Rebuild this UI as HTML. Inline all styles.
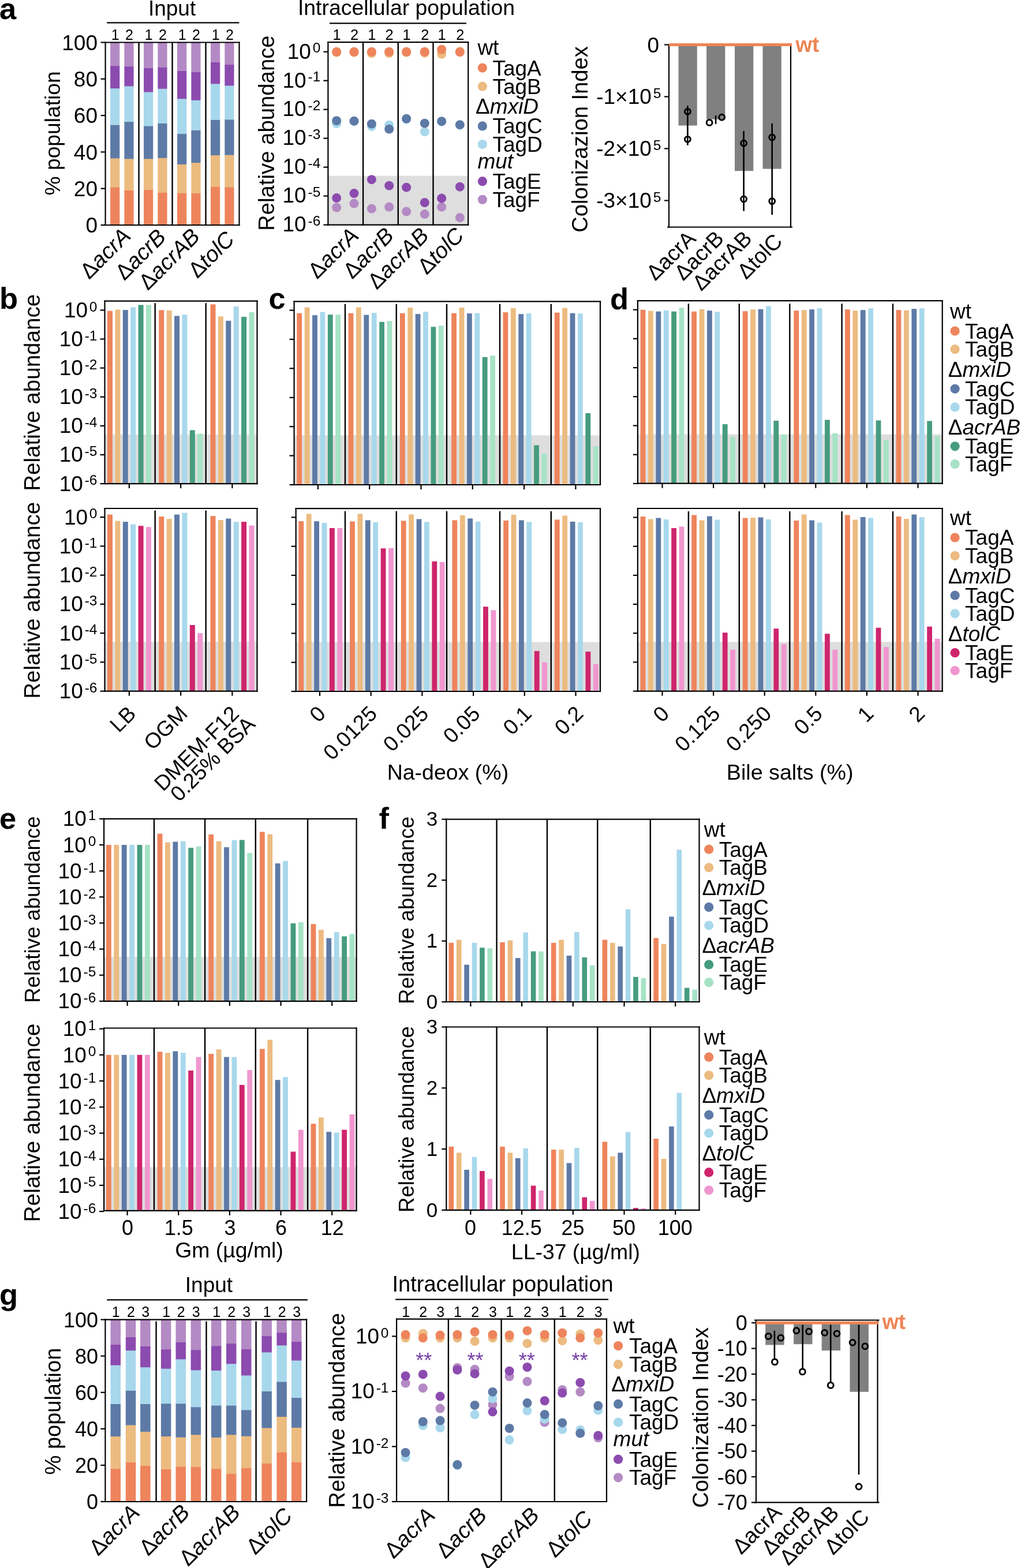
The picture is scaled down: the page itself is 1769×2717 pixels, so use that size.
<!DOCTYPE html>
<html><head><meta charset="utf-8"><title>Figure</title>
<style>html,body{margin:0;padding:0;background:#fff;}svg{display:block;}text{font-family:"Liberation Sans", Arial, Helvetica, sans-serif;}</style>
</head><body>
<svg xmlns="http://www.w3.org/2000/svg" width="1769" height="2717" viewBox="0 0 1769 2717">
<rect x="0" y="0" width="1769" height="2717" fill="#fff"/>
<text x="-1" y="32.5" font-size="52.5" text-anchor="start" font-weight="bold" fill="#000">a</text>
<text x="-1" y="535.3" font-size="52.5" text-anchor="start" font-weight="bold" fill="#000">b</text>
<text x="465.5" y="535.3" font-size="52.5" text-anchor="start" font-weight="bold" fill="#000">c</text>
<text x="1057" y="535.5" font-size="52.5" text-anchor="start" font-weight="bold" fill="#000">d</text>
<text x="-1" y="1435.5" font-size="52.5" text-anchor="start" font-weight="bold" fill="#000">e</text>
<text x="656.5" y="1435.8" font-size="52.5" text-anchor="start" font-weight="bold" fill="#000">f</text>
<text x="-1" y="2260.5" font-size="52.5" text-anchor="start" font-weight="bold" fill="#000">g</text>
<rect x="191.1" y="324.17" width="16.2" height="66.13" fill="#EE845C"/>
<rect x="191.1" y="274.16" width="16.2" height="50.31" fill="#ECBB80"/>
<rect x="191.1" y="216.24" width="16.2" height="58.22" fill="#5D7AA6"/>
<rect x="191.1" y="152.94" width="16.2" height="63.6" fill="#A8D8EC"/>
<rect x="191.1" y="114.01" width="16.2" height="39.23" fill="#8C4BAF"/>
<rect x="191.1" y="73.5" width="16.2" height="40.81" fill="#B48AC4"/>
<rect x="215.4" y="329.55" width="16.2" height="60.75" fill="#EE845C"/>
<rect x="215.4" y="275.11" width="16.2" height="54.74" fill="#ECBB80"/>
<rect x="215.4" y="210.86" width="16.2" height="64.55" fill="#5D7AA6"/>
<rect x="215.4" y="149.14" width="16.2" height="62.02" fill="#A8D8EC"/>
<rect x="215.4" y="114.96" width="16.2" height="34.48" fill="#8C4BAF"/>
<rect x="215.4" y="73.5" width="16.2" height="41.76" fill="#B48AC4"/>
<rect x="249.07" y="328.6" width="16.2" height="61.7" fill="#EE845C"/>
<rect x="249.07" y="275.11" width="16.2" height="53.79" fill="#ECBB80"/>
<rect x="249.07" y="218.14" width="16.2" height="57.27" fill="#5D7AA6"/>
<rect x="249.07" y="159.27" width="16.2" height="59.17" fill="#A8D8EC"/>
<rect x="249.07" y="117.81" width="16.2" height="41.76" fill="#8C4BAF"/>
<rect x="249.07" y="73.5" width="16.2" height="44.61" fill="#B48AC4"/>
<rect x="273.38" y="333.35" width="16.2" height="56.95" fill="#EE845C"/>
<rect x="273.38" y="273.53" width="16.2" height="60.12" fill="#ECBB80"/>
<rect x="273.38" y="213.39" width="16.2" height="60.44" fill="#5D7AA6"/>
<rect x="273.38" y="153.57" width="16.2" height="60.12" fill="#A8D8EC"/>
<rect x="273.38" y="116.23" width="16.2" height="37.65" fill="#8C4BAF"/>
<rect x="273.38" y="73.5" width="16.2" height="43.03" fill="#B48AC4"/>
<rect x="307.05" y="334.3" width="16.2" height="56" fill="#EE845C"/>
<rect x="307.05" y="284.61" width="16.2" height="49.99" fill="#ECBB80"/>
<rect x="307.05" y="231.75" width="16.2" height="53.16" fill="#5D7AA6"/>
<rect x="307.05" y="170.98" width="16.2" height="61.07" fill="#A8D8EC"/>
<rect x="307.05" y="122.56" width="16.2" height="48.72" fill="#8C4BAF"/>
<rect x="307.05" y="73.5" width="16.2" height="49.36" fill="#B48AC4"/>
<rect x="331.35" y="334.61" width="16.2" height="55.69" fill="#EE845C"/>
<rect x="331.35" y="281.76" width="16.2" height="53.16" fill="#ECBB80"/>
<rect x="331.35" y="225.42" width="16.2" height="56.64" fill="#5D7AA6"/>
<rect x="331.35" y="173.51" width="16.2" height="52.21" fill="#A8D8EC"/>
<rect x="331.35" y="124.46" width="16.2" height="49.36" fill="#8C4BAF"/>
<rect x="331.35" y="73.5" width="16.2" height="51.26" fill="#B48AC4"/>
<rect x="365.02" y="323.22" width="16.2" height="67.08" fill="#EE845C"/>
<rect x="365.02" y="268.78" width="16.2" height="54.74" fill="#ECBB80"/>
<rect x="365.02" y="207.38" width="16.2" height="61.7" fill="#5D7AA6"/>
<rect x="365.02" y="145.03" width="16.2" height="62.65" fill="#A8D8EC"/>
<rect x="365.02" y="107.68" width="16.2" height="37.65" fill="#8C4BAF"/>
<rect x="365.02" y="73.5" width="16.2" height="34.48" fill="#B48AC4"/>
<rect x="389.32" y="324.17" width="16.2" height="66.13" fill="#EE845C"/>
<rect x="389.32" y="268.46" width="16.2" height="56" fill="#ECBB80"/>
<rect x="389.32" y="207.06" width="16.2" height="61.7" fill="#5D7AA6"/>
<rect x="389.32" y="148.19" width="16.2" height="59.17" fill="#A8D8EC"/>
<rect x="389.32" y="111.48" width="16.2" height="37.01" fill="#8C4BAF"/>
<rect x="389.32" y="73.5" width="16.2" height="38.28" fill="#B48AC4"/>
<line x1="240.57" y1="73.5" x2="240.57" y2="390" stroke="#000" stroke-width="2.4" stroke-linecap="butt"/>
<line x1="298.55" y1="73.5" x2="298.55" y2="390" stroke="#000" stroke-width="2.4" stroke-linecap="butt"/>
<line x1="356.52" y1="73.5" x2="356.52" y2="390" stroke="#000" stroke-width="2.4" stroke-linecap="butt"/>
<line x1="182.6" y1="72.4" x2="182.6" y2="391.1" stroke="#000" stroke-width="2.2" stroke-linecap="butt"/>
<line x1="181.5" y1="390" x2="415.6" y2="390" stroke="#000" stroke-width="2.2" stroke-linecap="butt"/>
<line x1="181.5" y1="73.5" x2="415.6" y2="73.5" stroke="#000" stroke-width="2.2" stroke-linecap="butt"/>
<line x1="414.5" y1="72.4" x2="414.5" y2="391.1" stroke="#000" stroke-width="2.2" stroke-linecap="butt"/>
<line x1="174.6" y1="390" x2="182.6" y2="390" stroke="#000" stroke-width="2.2" stroke-linecap="butt"/>
<line x1="174.6" y1="326.7" x2="182.6" y2="326.7" stroke="#000" stroke-width="2.2" stroke-linecap="butt"/>
<line x1="174.6" y1="263.4" x2="182.6" y2="263.4" stroke="#000" stroke-width="2.2" stroke-linecap="butt"/>
<line x1="174.6" y1="200.1" x2="182.6" y2="200.1" stroke="#000" stroke-width="2.2" stroke-linecap="butt"/>
<line x1="174.6" y1="136.8" x2="182.6" y2="136.8" stroke="#000" stroke-width="2.2" stroke-linecap="butt"/>
<line x1="174.6" y1="73.5" x2="182.6" y2="73.5" stroke="#000" stroke-width="2.2" stroke-linecap="butt"/>
<text x="169" y="403.2" font-size="37" text-anchor="end" fill="#000">0</text>
<text x="169" y="339.9" font-size="37" text-anchor="end" fill="#000">20</text>
<text x="169" y="276.6" font-size="37" text-anchor="end" fill="#000">40</text>
<text x="169" y="213.3" font-size="37" text-anchor="end" fill="#000">60</text>
<text x="169" y="150" font-size="37" text-anchor="end" fill="#000">80</text>
<text x="169" y="86.7" font-size="37" text-anchor="end" fill="#000">100</text>
<text x="104.5" y="230.9" font-size="37.2" text-anchor="middle" fill="#000" transform="rotate(-90 104.5 230.9)">% population</text>
<text x="298.1" y="26.6" font-size="37" text-anchor="middle" fill="#000">Input</text>
<line x1="185.2" y1="39.3" x2="414.4" y2="39.3" stroke="#000" stroke-width="2.2" stroke-linecap="butt"/>
<text x="199.7" y="68.6" font-size="25" text-anchor="middle" fill="#000">1</text>
<text x="224" y="68.6" font-size="25" text-anchor="middle" fill="#000">2</text>
<text x="257.68" y="68.6" font-size="25" text-anchor="middle" fill="#000">1</text>
<text x="281.98" y="68.6" font-size="25" text-anchor="middle" fill="#000">2</text>
<text x="315.65" y="68.6" font-size="25" text-anchor="middle" fill="#000">1</text>
<text x="339.95" y="68.6" font-size="25" text-anchor="middle" fill="#000">2</text>
<text x="373.62" y="68.6" font-size="25" text-anchor="middle" fill="#000">1</text>
<text x="397.93" y="68.6" font-size="25" text-anchor="middle" fill="#000">2</text>
<text x="228.59" y="411" font-size="38.5" text-anchor="end" transform="rotate(-45 228.59 411)">Δ<tspan font-style="italic">acrA</tspan></text>
<text x="289.56" y="413" font-size="38.5" text-anchor="end" transform="rotate(-45 289.56 413)">Δ<tspan font-style="italic">acrB</tspan></text>
<text x="348.54" y="412" font-size="38.5" text-anchor="end" transform="rotate(-45 348.54 412)">Δ<tspan font-style="italic">acrAB</tspan></text>
<text x="408.51" y="417" font-size="38.5" text-anchor="end" transform="rotate(-45 408.51 417)">Δ<tspan font-style="italic">tolC</tspan></text>
<rect x="568.4" y="304.69" width="242.8" height="84.91" fill="#DDDEDD"/>
<line x1="629.1" y1="73.2" x2="629.1" y2="389.6" stroke="#000" stroke-width="2.4" stroke-linecap="butt"/>
<line x1="689.8" y1="73.2" x2="689.8" y2="389.6" stroke="#000" stroke-width="2.4" stroke-linecap="butt"/>
<line x1="750.5" y1="73.2" x2="750.5" y2="389.6" stroke="#000" stroke-width="2.4" stroke-linecap="butt"/>
<circle cx="583.2" cy="359.61" r="8" fill="#B48AC4"/>
<circle cx="613.5" cy="352.61" r="8" fill="#B48AC4"/>
<circle cx="643.9" cy="361.61" r="8" fill="#B48AC4"/>
<circle cx="674.2" cy="358.61" r="8" fill="#B48AC4"/>
<circle cx="704.2" cy="366.61" r="8" fill="#B48AC4"/>
<circle cx="735.8" cy="371.11" r="8" fill="#B48AC4"/>
<circle cx="765.2" cy="358.61" r="8" fill="#B48AC4"/>
<circle cx="796.8" cy="377.11" r="8" fill="#B48AC4"/>
<circle cx="583.2" cy="343.12" r="8" fill="#8C4BAF"/>
<circle cx="613.5" cy="335.12" r="8" fill="#8C4BAF"/>
<circle cx="643.9" cy="311.13" r="8" fill="#8C4BAF"/>
<circle cx="674.2" cy="321.63" r="8" fill="#8C4BAF"/>
<circle cx="704.2" cy="324.63" r="8" fill="#8C4BAF"/>
<circle cx="735.8" cy="351.12" r="8" fill="#8C4BAF"/>
<circle cx="765.2" cy="343.62" r="8" fill="#8C4BAF"/>
<circle cx="796.8" cy="323.63" r="8" fill="#8C4BAF"/>
<circle cx="583.2" cy="214.17" r="8" fill="#A8D8EC"/>
<circle cx="613.5" cy="210.17" r="8" fill="#A8D8EC"/>
<circle cx="643.9" cy="219.17" r="8" fill="#A8D8EC"/>
<circle cx="674.2" cy="216.67" r="8" fill="#A8D8EC"/>
<circle cx="704.2" cy="206.67" r="8" fill="#A8D8EC"/>
<circle cx="735.8" cy="228.16" r="8" fill="#A8D8EC"/>
<circle cx="765.2" cy="210.67" r="8" fill="#A8D8EC"/>
<circle cx="796.8" cy="216.67" r="8" fill="#A8D8EC"/>
<circle cx="583.2" cy="209.17" r="8" fill="#5D7AA6"/>
<circle cx="613.5" cy="209.67" r="8" fill="#5D7AA6"/>
<circle cx="643.9" cy="214.67" r="8" fill="#5D7AA6"/>
<circle cx="674.2" cy="223.67" r="8" fill="#5D7AA6"/>
<circle cx="704.2" cy="205.67" r="8" fill="#5D7AA6"/>
<circle cx="735.8" cy="213.67" r="8" fill="#5D7AA6"/>
<circle cx="765.2" cy="210.17" r="8" fill="#5D7AA6"/>
<circle cx="796.8" cy="216.17" r="8" fill="#5D7AA6"/>
<circle cx="583.2" cy="90.72" r="8" fill="#ECBB80"/>
<circle cx="613.5" cy="90.72" r="8" fill="#ECBB80"/>
<circle cx="643.9" cy="92.22" r="8" fill="#ECBB80"/>
<circle cx="674.2" cy="92.22" r="8" fill="#ECBB80"/>
<circle cx="704.2" cy="90.72" r="8" fill="#ECBB80"/>
<circle cx="735.8" cy="91.72" r="8" fill="#ECBB80"/>
<circle cx="765.2" cy="93.72" r="8" fill="#ECBB80"/>
<circle cx="796.8" cy="89.22" r="8" fill="#ECBB80"/>
<circle cx="583.2" cy="89.72" r="8" fill="#EE845C"/>
<circle cx="613.5" cy="89.72" r="8" fill="#EE845C"/>
<circle cx="643.9" cy="89.72" r="8" fill="#EE845C"/>
<circle cx="674.2" cy="89.72" r="8" fill="#EE845C"/>
<circle cx="704.2" cy="89.72" r="8" fill="#EE845C"/>
<circle cx="735.8" cy="89.72" r="8" fill="#EE845C"/>
<circle cx="765.2" cy="85.72" r="8" fill="#EE845C"/>
<circle cx="796.8" cy="90.22" r="8" fill="#EE845C"/>
<line x1="568.4" y1="72.1" x2="568.4" y2="390.7" stroke="#000" stroke-width="2.2" stroke-linecap="butt"/>
<line x1="567.3" y1="389.6" x2="812.3" y2="389.6" stroke="#000" stroke-width="2.2" stroke-linecap="butt"/>
<line x1="567.3" y1="73.2" x2="812.3" y2="73.2" stroke="#000" stroke-width="2.2" stroke-linecap="butt"/>
<line x1="811.2" y1="72.1" x2="811.2" y2="390.7" stroke="#000" stroke-width="2.2" stroke-linecap="butt"/>
<line x1="560.4" y1="389.6" x2="568.4" y2="389.6" stroke="#000" stroke-width="2.2" stroke-linecap="butt"/>
<line x1="560.4" y1="339.62" x2="568.4" y2="339.62" stroke="#000" stroke-width="2.2" stroke-linecap="butt"/>
<line x1="560.4" y1="289.64" x2="568.4" y2="289.64" stroke="#000" stroke-width="2.2" stroke-linecap="butt"/>
<line x1="560.4" y1="239.66" x2="568.4" y2="239.66" stroke="#000" stroke-width="2.2" stroke-linecap="butt"/>
<line x1="560.4" y1="189.68" x2="568.4" y2="189.68" stroke="#000" stroke-width="2.2" stroke-linecap="butt"/>
<line x1="560.4" y1="139.7" x2="568.4" y2="139.7" stroke="#000" stroke-width="2.2" stroke-linecap="butt"/>
<line x1="560.4" y1="89.72" x2="568.4" y2="89.72" stroke="#000" stroke-width="2.2" stroke-linecap="butt"/>
<text x="555.3" y="101.52" font-size="37" text-anchor="end">10<tspan font-size="24.5" dx="2.8" dy="-10.2">0</tspan></text>
<text x="555.3" y="151.5" font-size="37" text-anchor="end">10<tspan font-size="24.5" dx="2.8" dy="-10.2">-1</tspan></text>
<text x="555.3" y="201.48" font-size="37" text-anchor="end">10<tspan font-size="24.5" dx="2.8" dy="-10.2">-2</tspan></text>
<text x="555.3" y="251.46" font-size="37" text-anchor="end">10<tspan font-size="24.5" dx="2.8" dy="-10.2">-3</tspan></text>
<text x="555.3" y="301.44" font-size="37" text-anchor="end">10<tspan font-size="24.5" dx="2.8" dy="-10.2">-4</tspan></text>
<text x="555.3" y="351.42" font-size="37" text-anchor="end">10<tspan font-size="24.5" dx="2.8" dy="-10.2">-5</tspan></text>
<text x="555.3" y="401.4" font-size="37" text-anchor="end">10<tspan font-size="24.5" dx="2.8" dy="-10.2">-6</tspan></text>
<text x="474.8" y="230.6" font-size="38.3" text-anchor="middle" fill="#000" transform="rotate(-90 474.8 230.6)">Relative abundance</text>
<text x="704" y="26" font-size="37.4" text-anchor="middle" fill="#000">Intracellular population</text>
<line x1="571" y1="40.3" x2="808" y2="40.3" stroke="#000" stroke-width="2.2" stroke-linecap="butt"/>
<text x="583.7" y="68.8" font-size="25.5" text-anchor="middle" fill="#000">1</text>
<text x="614" y="68.8" font-size="25.5" text-anchor="middle" fill="#000">2</text>
<text x="644.4" y="68.8" font-size="25.5" text-anchor="middle" fill="#000">1</text>
<text x="674.7" y="68.8" font-size="25.5" text-anchor="middle" fill="#000">2</text>
<text x="704.7" y="68.8" font-size="25.5" text-anchor="middle" fill="#000">1</text>
<text x="736.3" y="68.8" font-size="25.5" text-anchor="middle" fill="#000">2</text>
<text x="765.7" y="68.8" font-size="25.5" text-anchor="middle" fill="#000">1</text>
<text x="797.3" y="68.8" font-size="25.5" text-anchor="middle" fill="#000">2</text>
<text x="623.75" y="410.6" font-size="38.5" text-anchor="end" transform="rotate(-45 623.75 410.6)">Δ<tspan font-style="italic">acrA</tspan></text>
<text x="684.45" y="410.6" font-size="38.5" text-anchor="end" transform="rotate(-45 684.45 410.6)">Δ<tspan font-style="italic">acrB</tspan></text>
<text x="745.15" y="410.6" font-size="38.5" text-anchor="end" transform="rotate(-45 745.15 410.6)">Δ<tspan font-style="italic">acrAB</tspan></text>
<text x="805.85" y="410.6" font-size="38.5" text-anchor="end" transform="rotate(-45 805.85 410.6)">Δ<tspan font-style="italic">tolC</tspan></text>
<text x="827.4" y="95.2" font-size="37">wt</text>
<circle cx="835.9" cy="117.6" r="8.1" fill="#EE845C"/>
<text x="853.4" y="130.5" font-size="37" text-anchor="start" fill="#000">TagA</text>
<circle cx="835.9" cy="149.7" r="8.1" fill="#ECBB80"/>
<text x="853.4" y="162.6" font-size="37" text-anchor="start" fill="#000">TagB</text>
<text x="824.1" y="196.7" font-size="37">Δ<tspan font-style="italic">mxiD</tspan></text>
<circle cx="835.9" cy="218.4" r="8.1" fill="#5D7AA6"/>
<text x="853.4" y="231.3" font-size="37" text-anchor="start" fill="#000">TagC</text>
<circle cx="835.9" cy="250" r="8.1" fill="#A8D8EC"/>
<text x="853.4" y="262.9" font-size="37" text-anchor="start" fill="#000">TagD</text>
<text x="827.4" y="291.9" font-size="37"><tspan font-style="italic">mut</tspan></text>
<circle cx="835.9" cy="314.2" r="8.1" fill="#8C4BAF"/>
<text x="853.4" y="327.1" font-size="37" text-anchor="start" fill="#000">TagE</text>
<circle cx="835.9" cy="345.8" r="8.1" fill="#B48AC4"/>
<text x="853.4" y="358.7" font-size="37" text-anchor="start" fill="#000">TagF</text>
<rect x="1175.5" y="79" width="32.3" height="138.54" fill="#808080"/>
<rect x="1224.1" y="79" width="32.3" height="127.74" fill="#808080"/>
<rect x="1273" y="79" width="32.3" height="217.2" fill="#808080"/>
<rect x="1321.5" y="79" width="32.3" height="213.6" fill="#808080"/>
<line x1="1159" y1="77.5" x2="1159" y2="394.6" stroke="#000" stroke-width="2.2" stroke-linecap="butt"/>
<line x1="1370" y1="77.5" x2="1370" y2="394.6" stroke="#000" stroke-width="2.2" stroke-linecap="butt"/>
<line x1="1156" y1="393.5" x2="1373" y2="393.5" stroke="#000" stroke-width="2.2" stroke-linecap="butt"/>
<line x1="1151" y1="77.5" x2="1159" y2="77.5" stroke="#000" stroke-width="2.2" stroke-linecap="butt"/>
<line x1="1151" y1="167.5" x2="1159" y2="167.5" stroke="#000" stroke-width="2.2" stroke-linecap="butt"/>
<line x1="1151" y1="257.5" x2="1159" y2="257.5" stroke="#000" stroke-width="2.2" stroke-linecap="butt"/>
<line x1="1151" y1="347.5" x2="1159" y2="347.5" stroke="#000" stroke-width="2.2" stroke-linecap="butt"/>
<line x1="1191.4" y1="183.2" x2="1191.4" y2="251.8" stroke="#000" stroke-width="2.6" stroke-linecap="butt"/>
<line x1="1240.1" y1="200.1" x2="1240.1" y2="214.8" stroke="#000" stroke-width="2.6" stroke-linecap="butt"/>
<line x1="1288.6" y1="226.9" x2="1288.6" y2="365.6" stroke="#000" stroke-width="2.6" stroke-linecap="butt"/>
<line x1="1337.7" y1="213.9" x2="1337.7" y2="372.1" stroke="#000" stroke-width="2.6" stroke-linecap="butt"/>
<circle cx="1191.4" cy="193.3" r="4.9" fill="none" stroke="#000" stroke-width="3"/>
<circle cx="1191.4" cy="241.3" r="4.9" fill="none" stroke="#000" stroke-width="3"/>
<circle cx="1229.2" cy="212.4" r="4.9" fill="none" stroke="#000" stroke-width="3"/>
<circle cx="1250.6" cy="203.2" r="4.9" fill="none" stroke="#000" stroke-width="3"/>
<circle cx="1288.6" cy="248.2" r="4.9" fill="none" stroke="#000" stroke-width="3"/>
<circle cx="1288.6" cy="345" r="4.9" fill="none" stroke="#000" stroke-width="3"/>
<circle cx="1337.7" cy="238" r="4.9" fill="none" stroke="#000" stroke-width="3"/>
<circle cx="1337.7" cy="348.6" r="4.9" fill="none" stroke="#000" stroke-width="3"/>
<line x1="1159" y1="77.5" x2="1372" y2="77.5" stroke="#EE8555" stroke-width="5" stroke-linecap="butt"/>
<text x="1378.5" y="90.3" font-size="36.5" text-anchor="start" font-weight="bold" fill="#EE8555">wt</text>
<text x="1142" y="90.5" font-size="37" text-anchor="end" fill="#000">0</text>
<text x="1145.3" y="180.4" font-size="37" text-anchor="end">-1×10<tspan font-size="24.5" dx="2.8" dy="-10.2">5</tspan></text>
<text x="1145.3" y="270.4" font-size="37" text-anchor="end">-2×10<tspan font-size="24.5" dx="2.8" dy="-10.2">5</tspan></text>
<text x="1145.3" y="360.4" font-size="37" text-anchor="end">-3×10<tspan font-size="24.5" dx="2.8" dy="-10.2">5</tspan></text>
<text x="1018.1" y="241.4" font-size="38.2" text-anchor="middle" fill="#000" transform="rotate(-90 1018.1 241.4)">Colonizazion Index</text>
<text x="1207.6" y="415.5" font-size="37.5" text-anchor="end" transform="rotate(-45 1207.6 415.5)">Δ<tspan>acrA</tspan></text>
<text x="1256.1" y="415.5" font-size="37.5" text-anchor="end" transform="rotate(-45 1256.1 415.5)">Δ<tspan>acrB</tspan></text>
<text x="1305" y="415.5" font-size="37.5" text-anchor="end" transform="rotate(-45 1305 415.5)">Δ<tspan>acrAB</tspan></text>
<text x="1357.6" y="420.5" font-size="37.5" text-anchor="end" transform="rotate(-45 1357.6 420.5)">Δ<tspan>tolC</tspan></text>
<rect x="181.5" y="752.97" width="264" height="85.13" fill="#DDDEDD"/>
<rect x="186" y="538.7" width="9" height="299.4" fill="#EE845C"/>
<rect x="199.4" y="536.5" width="9" height="301.6" fill="#ECBB80"/>
<rect x="212.8" y="537.1" width="9" height="301" fill="#5D7AA6"/>
<rect x="226.2" y="532.39" width="9" height="305.71" fill="#A8D8EC"/>
<rect x="239.6" y="528.38" width="9" height="309.72" fill="#469C7E"/>
<rect x="253" y="528.38" width="9" height="309.72" fill="#A6E3C6"/>
<rect x="275.25" y="537.4" width="9" height="300.7" fill="#EE845C"/>
<rect x="288.65" y="538" width="9" height="300.1" fill="#ECBB80"/>
<rect x="302.05" y="547.42" width="9" height="290.68" fill="#5D7AA6"/>
<rect x="315.45" y="545.12" width="9" height="292.98" fill="#A8D8EC"/>
<rect x="328.85" y="745.4" width="9" height="92.7" fill="#469C7E"/>
<rect x="342.25" y="751.41" width="9" height="86.69" fill="#A6E3C6"/>
<rect x="364.5" y="527.38" width="9" height="310.72" fill="#EE845C"/>
<rect x="377.9" y="548.28" width="9" height="289.82" fill="#ECBB80"/>
<rect x="391.3" y="555.79" width="9" height="282.31" fill="#5D7AA6"/>
<rect x="404.7" y="531.19" width="9" height="306.91" fill="#A8D8EC"/>
<rect x="418.1" y="548.98" width="9" height="289.12" fill="#469C7E"/>
<rect x="431.5" y="540.91" width="9" height="297.19" fill="#A6E3C6"/>
<line x1="268.7" y1="525.2" x2="268.7" y2="838.1" stroke="#000" stroke-width="2.4" stroke-linecap="butt"/>
<line x1="356.7" y1="525.2" x2="356.7" y2="838.1" stroke="#000" stroke-width="2.4" stroke-linecap="butt"/>
<line x1="181.5" y1="520.6" x2="181.5" y2="839.2" stroke="#000" stroke-width="2.2" stroke-linecap="butt"/>
<line x1="180.4" y1="838.1" x2="446.6" y2="838.1" stroke="#000" stroke-width="2.2" stroke-linecap="butt"/>
<line x1="180.4" y1="521.7" x2="446.6" y2="521.7" stroke="#000" stroke-width="2.2" stroke-linecap="butt"/>
<line x1="445.5" y1="520.6" x2="445.5" y2="839.2" stroke="#000" stroke-width="2.2" stroke-linecap="butt"/>
<line x1="173.5" y1="838.12" x2="181.5" y2="838.12" stroke="#000" stroke-width="2.2" stroke-linecap="butt"/>
<line x1="173.5" y1="788" x2="181.5" y2="788" stroke="#000" stroke-width="2.2" stroke-linecap="butt"/>
<line x1="173.5" y1="737.88" x2="181.5" y2="737.88" stroke="#000" stroke-width="2.2" stroke-linecap="butt"/>
<line x1="173.5" y1="687.76" x2="181.5" y2="687.76" stroke="#000" stroke-width="2.2" stroke-linecap="butt"/>
<line x1="173.5" y1="637.64" x2="181.5" y2="637.64" stroke="#000" stroke-width="2.2" stroke-linecap="butt"/>
<line x1="173.5" y1="587.52" x2="181.5" y2="587.52" stroke="#000" stroke-width="2.2" stroke-linecap="butt"/>
<line x1="173.5" y1="537.4" x2="181.5" y2="537.4" stroke="#000" stroke-width="2.2" stroke-linecap="butt"/>
<line x1="223.9" y1="838.1" x2="223.9" y2="846.1" stroke="#000" stroke-width="2.2" stroke-linecap="butt"/>
<line x1="313.15" y1="838.1" x2="313.15" y2="846.1" stroke="#000" stroke-width="2.2" stroke-linecap="butt"/>
<line x1="402.4" y1="838.1" x2="402.4" y2="846.1" stroke="#000" stroke-width="2.2" stroke-linecap="butt"/>
<text x="168.5" y="549.8" font-size="37" text-anchor="end">10<tspan font-size="24.5" dx="2.8" dy="-10.2">0</tspan></text>
<text x="168.5" y="599.92" font-size="37" text-anchor="end">10<tspan font-size="24.5" dx="2.8" dy="-10.2">-1</tspan></text>
<text x="168.5" y="650.04" font-size="37" text-anchor="end">10<tspan font-size="24.5" dx="2.8" dy="-10.2">-2</tspan></text>
<text x="168.5" y="700.16" font-size="37" text-anchor="end">10<tspan font-size="24.5" dx="2.8" dy="-10.2">-3</tspan></text>
<text x="168.5" y="750.28" font-size="37" text-anchor="end">10<tspan font-size="24.5" dx="2.8" dy="-10.2">-4</tspan></text>
<text x="168.5" y="800.4" font-size="37" text-anchor="end">10<tspan font-size="24.5" dx="2.8" dy="-10.2">-5</tspan></text>
<text x="168.5" y="850.52" font-size="37" text-anchor="end">10<tspan font-size="24.5" dx="2.8" dy="-10.2">-6</tspan></text>
<rect x="181.5" y="1112.23" width="264" height="85.37" fill="#DDDEDD"/>
<rect x="186" y="891.58" width="9" height="306.02" fill="#EE845C"/>
<rect x="199.4" y="902.63" width="9" height="294.97" fill="#ECBB80"/>
<rect x="212.8" y="904.14" width="9" height="293.46" fill="#5D7AA6"/>
<rect x="226.2" y="908.66" width="9" height="288.94" fill="#A8D8EC"/>
<rect x="239.6" y="911.18" width="9" height="286.42" fill="#CE256D"/>
<rect x="253" y="913.19" width="9" height="284.41" fill="#F096CF"/>
<rect x="275.25" y="895.1" width="9" height="302.5" fill="#EE845C"/>
<rect x="288.65" y="899.12" width="9" height="298.48" fill="#ECBB80"/>
<rect x="302.05" y="891.58" width="9" height="306.02" fill="#5D7AA6"/>
<rect x="315.45" y="888.56" width="9" height="309.04" fill="#A8D8EC"/>
<rect x="328.85" y="1083.03" width="9" height="114.57" fill="#CE256D"/>
<rect x="342.25" y="1097.1" width="9" height="100.5" fill="#F096CF"/>
<rect x="364.5" y="894.09" width="9" height="303.51" fill="#EE845C"/>
<rect x="377.9" y="901.12" width="9" height="296.47" fill="#ECBB80"/>
<rect x="391.3" y="898.61" width="9" height="298.99" fill="#5D7AA6"/>
<rect x="404.7" y="904.14" width="9" height="293.46" fill="#A8D8EC"/>
<rect x="418.1" y="904.14" width="9" height="293.46" fill="#CE256D"/>
<rect x="431.5" y="910.67" width="9" height="286.93" fill="#F096CF"/>
<line x1="268.7" y1="884.5" x2="268.7" y2="1197.6" stroke="#000" stroke-width="2.4" stroke-linecap="butt"/>
<line x1="356.7" y1="884.5" x2="356.7" y2="1197.6" stroke="#000" stroke-width="2.4" stroke-linecap="butt"/>
<line x1="181.5" y1="879.9" x2="181.5" y2="1198.7" stroke="#000" stroke-width="2.2" stroke-linecap="butt"/>
<line x1="180.4" y1="1197.6" x2="446.6" y2="1197.6" stroke="#000" stroke-width="2.2" stroke-linecap="butt"/>
<line x1="180.4" y1="881" x2="446.6" y2="881" stroke="#000" stroke-width="2.2" stroke-linecap="butt"/>
<line x1="445.5" y1="879.9" x2="445.5" y2="1198.7" stroke="#000" stroke-width="2.2" stroke-linecap="butt"/>
<line x1="173.5" y1="1197.6" x2="181.5" y2="1197.6" stroke="#000" stroke-width="2.2" stroke-linecap="butt"/>
<line x1="173.5" y1="1147.35" x2="181.5" y2="1147.35" stroke="#000" stroke-width="2.2" stroke-linecap="butt"/>
<line x1="173.5" y1="1097.1" x2="181.5" y2="1097.1" stroke="#000" stroke-width="2.2" stroke-linecap="butt"/>
<line x1="173.5" y1="1046.85" x2="181.5" y2="1046.85" stroke="#000" stroke-width="2.2" stroke-linecap="butt"/>
<line x1="173.5" y1="996.6" x2="181.5" y2="996.6" stroke="#000" stroke-width="2.2" stroke-linecap="butt"/>
<line x1="173.5" y1="946.35" x2="181.5" y2="946.35" stroke="#000" stroke-width="2.2" stroke-linecap="butt"/>
<line x1="173.5" y1="896.1" x2="181.5" y2="896.1" stroke="#000" stroke-width="2.2" stroke-linecap="butt"/>
<line x1="223.9" y1="1197.6" x2="223.9" y2="1205.6" stroke="#000" stroke-width="2.2" stroke-linecap="butt"/>
<line x1="313.15" y1="1197.6" x2="313.15" y2="1205.6" stroke="#000" stroke-width="2.2" stroke-linecap="butt"/>
<line x1="402.4" y1="1197.6" x2="402.4" y2="1205.6" stroke="#000" stroke-width="2.2" stroke-linecap="butt"/>
<text x="168.5" y="908.5" font-size="37" text-anchor="end">10<tspan font-size="24.5" dx="2.8" dy="-10.2">0</tspan></text>
<text x="168.5" y="958.75" font-size="37" text-anchor="end">10<tspan font-size="24.5" dx="2.8" dy="-10.2">-1</tspan></text>
<text x="168.5" y="1009" font-size="37" text-anchor="end">10<tspan font-size="24.5" dx="2.8" dy="-10.2">-2</tspan></text>
<text x="168.5" y="1059.25" font-size="37" text-anchor="end">10<tspan font-size="24.5" dx="2.8" dy="-10.2">-3</tspan></text>
<text x="168.5" y="1109.5" font-size="37" text-anchor="end">10<tspan font-size="24.5" dx="2.8" dy="-10.2">-4</tspan></text>
<text x="168.5" y="1159.75" font-size="37" text-anchor="end">10<tspan font-size="24.5" dx="2.8" dy="-10.2">-5</tspan></text>
<text x="168.5" y="1210" font-size="37" text-anchor="end">10<tspan font-size="24.5" dx="2.8" dy="-10.2">-6</tspan></text>
<text x="69.4" y="680.3" font-size="38.6" text-anchor="middle" fill="#000" transform="rotate(-90 69.4 680.3)">Relative abundance</text>
<text x="69.4" y="1040.3" font-size="38.6" text-anchor="middle" fill="#000" transform="rotate(-90 69.4 1040.3)">Relative abundance</text>
<text x="237.7" y="1239" font-size="37" text-anchor="end" fill="#000" transform="rotate(-45 237.7 1239)">LB</text>
<text x="326.95" y="1239" font-size="37" text-anchor="end" fill="#000" transform="rotate(-45 326.95 1239)">OGM</text>
<text x="416.2" y="1239" font-size="37" text-anchor="end" fill="#000" transform="rotate(-45 416.2 1239)">DMEM-F12</text>
<text x="444.2" y="1257" font-size="37" text-anchor="end" fill="#000" transform="rotate(-45 444.2 1257)">0.25% BSA</text>
<rect x="509.6" y="754.37" width="530.4" height="85.63" fill="#DDDEDD"/>
<rect x="514.3" y="542.64" width="8.8" height="297.36" fill="#EE845C"/>
<rect x="527.7" y="532.56" width="8.8" height="307.44" fill="#ECBB80"/>
<rect x="541.1" y="546.17" width="8.8" height="293.83" fill="#5D7AA6"/>
<rect x="554.5" y="540.62" width="8.8" height="299.38" fill="#A8D8EC"/>
<rect x="567.9" y="545.16" width="8.8" height="294.84" fill="#469C7E"/>
<rect x="581.3" y="545.16" width="8.8" height="294.84" fill="#A6E3C6"/>
<rect x="603.6" y="542.64" width="8.8" height="297.36" fill="#EE845C"/>
<rect x="617" y="532.56" width="8.8" height="307.44" fill="#ECBB80"/>
<rect x="630.4" y="545.66" width="8.8" height="294.34" fill="#5D7AA6"/>
<rect x="643.8" y="542.14" width="8.8" height="297.86" fill="#A8D8EC"/>
<rect x="657.2" y="557.76" width="8.8" height="282.24" fill="#469C7E"/>
<rect x="670.6" y="556.25" width="8.8" height="283.75" fill="#A6E3C6"/>
<rect x="692.9" y="542.64" width="8.8" height="297.36" fill="#EE845C"/>
<rect x="706.3" y="533.06" width="8.8" height="306.94" fill="#ECBB80"/>
<rect x="719.7" y="544.15" width="8.8" height="295.85" fill="#5D7AA6"/>
<rect x="733.1" y="540.12" width="8.8" height="299.88" fill="#A8D8EC"/>
<rect x="746.5" y="566.33" width="8.8" height="273.67" fill="#469C7E"/>
<rect x="759.9" y="564.31" width="8.8" height="275.69" fill="#A6E3C6"/>
<rect x="782.2" y="542.64" width="8.8" height="297.36" fill="#EE845C"/>
<rect x="795.6" y="533.06" width="8.8" height="306.94" fill="#ECBB80"/>
<rect x="809" y="543.14" width="8.8" height="296.86" fill="#5D7AA6"/>
<rect x="822.4" y="542.64" width="8.8" height="297.36" fill="#A8D8EC"/>
<rect x="835.8" y="618.74" width="8.8" height="221.26" fill="#469C7E"/>
<rect x="849.2" y="616.22" width="8.8" height="223.78" fill="#A6E3C6"/>
<rect x="871.5" y="541.13" width="8.8" height="298.87" fill="#EE845C"/>
<rect x="884.9" y="534.07" width="8.8" height="305.93" fill="#ECBB80"/>
<rect x="898.3" y="544.15" width="8.8" height="295.85" fill="#5D7AA6"/>
<rect x="911.7" y="543.14" width="8.8" height="296.86" fill="#A8D8EC"/>
<rect x="925.1" y="771.46" width="8.8" height="68.54" fill="#469C7E"/>
<rect x="938.5" y="786.58" width="8.8" height="53.42" fill="#A6E3C6"/>
<rect x="960.8" y="541.63" width="8.8" height="298.37" fill="#EE845C"/>
<rect x="974.2" y="533.57" width="8.8" height="306.43" fill="#ECBB80"/>
<rect x="987.6" y="542.64" width="8.8" height="297.36" fill="#5D7AA6"/>
<rect x="1001" y="543.14" width="8.8" height="296.86" fill="#A8D8EC"/>
<rect x="1014.4" y="716.02" width="8.8" height="123.98" fill="#469C7E"/>
<rect x="1027.8" y="773.47" width="8.8" height="66.53" fill="#A6E3C6"/>
<line x1="598" y1="526.8" x2="598" y2="840" stroke="#000" stroke-width="2.4" stroke-linecap="butt"/>
<line x1="686.8" y1="526.8" x2="686.8" y2="840" stroke="#000" stroke-width="2.4" stroke-linecap="butt"/>
<line x1="774" y1="526.8" x2="774" y2="840" stroke="#000" stroke-width="2.4" stroke-linecap="butt"/>
<line x1="866" y1="526.8" x2="866" y2="840" stroke="#000" stroke-width="2.4" stroke-linecap="butt"/>
<line x1="954.8" y1="526.8" x2="954.8" y2="840" stroke="#000" stroke-width="2.4" stroke-linecap="butt"/>
<line x1="509.6" y1="521.2" x2="509.6" y2="841.1" stroke="#000" stroke-width="2.2" stroke-linecap="butt"/>
<line x1="508.5" y1="840" x2="1041.1" y2="840" stroke="#000" stroke-width="2.2" stroke-linecap="butt"/>
<line x1="508.5" y1="522.3" x2="1041.1" y2="522.3" stroke="#000" stroke-width="2.2" stroke-linecap="butt"/>
<line x1="1040" y1="521.2" x2="1040" y2="841.1" stroke="#000" stroke-width="2.2" stroke-linecap="butt"/>
<line x1="501.6" y1="840" x2="509.6" y2="840" stroke="#000" stroke-width="2.2" stroke-linecap="butt"/>
<line x1="501.6" y1="789.6" x2="509.6" y2="789.6" stroke="#000" stroke-width="2.2" stroke-linecap="butt"/>
<line x1="501.6" y1="739.2" x2="509.6" y2="739.2" stroke="#000" stroke-width="2.2" stroke-linecap="butt"/>
<line x1="501.6" y1="688.8" x2="509.6" y2="688.8" stroke="#000" stroke-width="2.2" stroke-linecap="butt"/>
<line x1="501.6" y1="638.4" x2="509.6" y2="638.4" stroke="#000" stroke-width="2.2" stroke-linecap="butt"/>
<line x1="501.6" y1="588" x2="509.6" y2="588" stroke="#000" stroke-width="2.2" stroke-linecap="butt"/>
<line x1="501.6" y1="537.6" x2="509.6" y2="537.6" stroke="#000" stroke-width="2.2" stroke-linecap="butt"/>
<line x1="550.9" y1="840" x2="550.9" y2="848" stroke="#000" stroke-width="2.2" stroke-linecap="butt"/>
<line x1="640.2" y1="840" x2="640.2" y2="848" stroke="#000" stroke-width="2.2" stroke-linecap="butt"/>
<line x1="729.5" y1="840" x2="729.5" y2="848" stroke="#000" stroke-width="2.2" stroke-linecap="butt"/>
<line x1="818.8" y1="840" x2="818.8" y2="848" stroke="#000" stroke-width="2.2" stroke-linecap="butt"/>
<line x1="908.1" y1="840" x2="908.1" y2="848" stroke="#000" stroke-width="2.2" stroke-linecap="butt"/>
<line x1="997.4" y1="840" x2="997.4" y2="848" stroke="#000" stroke-width="2.2" stroke-linecap="butt"/>
<rect x="512.7" y="1112.61" width="527.3" height="85.39" fill="#DDDEDD"/>
<rect x="517.4" y="903.19" width="8.8" height="294.81" fill="#EE845C"/>
<rect x="530.8" y="890.37" width="8.8" height="307.63" fill="#ECBB80"/>
<rect x="544.2" y="903.19" width="8.8" height="294.81" fill="#5D7AA6"/>
<rect x="557.6" y="905.95" width="8.8" height="292.05" fill="#A8D8EC"/>
<rect x="571" y="915" width="8.8" height="283" fill="#CE256D"/>
<rect x="584.4" y="915" width="8.8" height="283" fill="#F096CF"/>
<rect x="606.1" y="903.44" width="8.8" height="294.56" fill="#EE845C"/>
<rect x="619.5" y="890.37" width="8.8" height="307.63" fill="#ECBB80"/>
<rect x="632.9" y="901.43" width="8.8" height="296.57" fill="#5D7AA6"/>
<rect x="646.3" y="904.95" width="8.8" height="293.05" fill="#A8D8EC"/>
<rect x="659.7" y="950.19" width="8.8" height="247.81" fill="#CE256D"/>
<rect x="673.1" y="949.69" width="8.8" height="248.31" fill="#F096CF"/>
<rect x="694.8" y="902.43" width="8.8" height="295.57" fill="#EE845C"/>
<rect x="708.2" y="891.37" width="8.8" height="306.63" fill="#ECBB80"/>
<rect x="721.6" y="899.42" width="8.8" height="298.58" fill="#5D7AA6"/>
<rect x="735" y="904.44" width="8.8" height="293.56" fill="#A8D8EC"/>
<rect x="748.4" y="972.81" width="8.8" height="225.19" fill="#CE256D"/>
<rect x="761.8" y="973.82" width="8.8" height="224.18" fill="#F096CF"/>
<rect x="783.5" y="901.43" width="8.8" height="296.57" fill="#EE845C"/>
<rect x="796.9" y="892.88" width="8.8" height="305.12" fill="#ECBB80"/>
<rect x="810.3" y="898.41" width="8.8" height="299.59" fill="#5D7AA6"/>
<rect x="823.7" y="903.94" width="8.8" height="294.06" fill="#A8D8EC"/>
<rect x="837.1" y="1051.23" width="8.8" height="146.77" fill="#CE256D"/>
<rect x="850.5" y="1057.26" width="8.8" height="140.74" fill="#F096CF"/>
<rect x="872.2" y="901.93" width="8.8" height="296.07" fill="#EE845C"/>
<rect x="885.6" y="891.88" width="8.8" height="306.12" fill="#ECBB80"/>
<rect x="899" y="901.43" width="8.8" height="296.57" fill="#5D7AA6"/>
<rect x="912.4" y="904.44" width="8.8" height="293.56" fill="#A8D8EC"/>
<rect x="925.8" y="1128.14" width="8.8" height="69.86" fill="#CE256D"/>
<rect x="939.2" y="1147.75" width="8.8" height="50.25" fill="#F096CF"/>
<rect x="960.9" y="900.42" width="8.8" height="297.58" fill="#EE845C"/>
<rect x="974.3" y="893.38" width="8.8" height="304.62" fill="#ECBB80"/>
<rect x="987.7" y="903.94" width="8.8" height="294.06" fill="#5D7AA6"/>
<rect x="1001.1" y="904.95" width="8.8" height="293.05" fill="#A8D8EC"/>
<rect x="1014.5" y="1129.15" width="8.8" height="68.85" fill="#CE256D"/>
<rect x="1027.9" y="1150.77" width="8.8" height="47.23" fill="#F096CF"/>
<line x1="598" y1="885.7" x2="598" y2="1198" stroke="#000" stroke-width="2.4" stroke-linecap="butt"/>
<line x1="686.8" y1="885.7" x2="686.8" y2="1198" stroke="#000" stroke-width="2.4" stroke-linecap="butt"/>
<line x1="774" y1="885.7" x2="774" y2="1198" stroke="#000" stroke-width="2.4" stroke-linecap="butt"/>
<line x1="866" y1="885.7" x2="866" y2="1198" stroke="#000" stroke-width="2.4" stroke-linecap="butt"/>
<line x1="954.8" y1="885.7" x2="954.8" y2="1198" stroke="#000" stroke-width="2.4" stroke-linecap="butt"/>
<line x1="512.7" y1="880.1" x2="512.7" y2="1199.1" stroke="#000" stroke-width="2.2" stroke-linecap="butt"/>
<line x1="511.6" y1="1198" x2="1041.1" y2="1198" stroke="#000" stroke-width="2.2" stroke-linecap="butt"/>
<line x1="511.6" y1="881.2" x2="1041.1" y2="881.2" stroke="#000" stroke-width="2.2" stroke-linecap="butt"/>
<line x1="1040" y1="880.1" x2="1040" y2="1199.1" stroke="#000" stroke-width="2.2" stroke-linecap="butt"/>
<line x1="504.7" y1="1198.02" x2="512.7" y2="1198.02" stroke="#000" stroke-width="2.2" stroke-linecap="butt"/>
<line x1="504.7" y1="1147.75" x2="512.7" y2="1147.75" stroke="#000" stroke-width="2.2" stroke-linecap="butt"/>
<line x1="504.7" y1="1097.48" x2="512.7" y2="1097.48" stroke="#000" stroke-width="2.2" stroke-linecap="butt"/>
<line x1="504.7" y1="1047.21" x2="512.7" y2="1047.21" stroke="#000" stroke-width="2.2" stroke-linecap="butt"/>
<line x1="504.7" y1="996.94" x2="512.7" y2="996.94" stroke="#000" stroke-width="2.2" stroke-linecap="butt"/>
<line x1="504.7" y1="946.67" x2="512.7" y2="946.67" stroke="#000" stroke-width="2.2" stroke-linecap="butt"/>
<line x1="504.7" y1="896.4" x2="512.7" y2="896.4" stroke="#000" stroke-width="2.2" stroke-linecap="butt"/>
<line x1="554" y1="1198" x2="554" y2="1206" stroke="#000" stroke-width="2.2" stroke-linecap="butt"/>
<line x1="642.7" y1="1198" x2="642.7" y2="1206" stroke="#000" stroke-width="2.2" stroke-linecap="butt"/>
<line x1="731.4" y1="1198" x2="731.4" y2="1206" stroke="#000" stroke-width="2.2" stroke-linecap="butt"/>
<line x1="820.1" y1="1198" x2="820.1" y2="1206" stroke="#000" stroke-width="2.2" stroke-linecap="butt"/>
<line x1="908.8" y1="1198" x2="908.8" y2="1206" stroke="#000" stroke-width="2.2" stroke-linecap="butt"/>
<line x1="997.5" y1="1198" x2="997.5" y2="1206" stroke="#000" stroke-width="2.2" stroke-linecap="butt"/>
<text x="566.2" y="1239" font-size="37" text-anchor="end" fill="#000" transform="rotate(-45 566.2 1239)">0</text>
<text x="655.5" y="1239" font-size="37" text-anchor="end" fill="#000" transform="rotate(-45 655.5 1239)">0.0125</text>
<text x="744.8" y="1239" font-size="37" text-anchor="end" fill="#000" transform="rotate(-45 744.8 1239)">0.025</text>
<text x="834.1" y="1239" font-size="37" text-anchor="end" fill="#000" transform="rotate(-45 834.1 1239)">0.05</text>
<text x="923.4" y="1239" font-size="37" text-anchor="end" fill="#000" transform="rotate(-45 923.4 1239)">0.1</text>
<text x="1012.7" y="1239" font-size="37" text-anchor="end" fill="#000" transform="rotate(-45 1012.7 1239)">0.2</text>
<text x="775.9" y="1350.7" font-size="37.5" text-anchor="middle" fill="#000">Na-deox (%)</text>
<rect x="1104.9" y="752.61" width="527.8" height="85.09" fill="#DDDEDD"/>
<rect x="1109.6" y="536.7" width="8.8" height="301" fill="#EE845C"/>
<rect x="1123" y="538.71" width="8.8" height="298.99" fill="#ECBB80"/>
<rect x="1136.4" y="539.71" width="8.8" height="297.99" fill="#5D7AA6"/>
<rect x="1149.8" y="537.7" width="8.8" height="300" fill="#A8D8EC"/>
<rect x="1163.2" y="539.71" width="8.8" height="297.99" fill="#469C7E"/>
<rect x="1176.6" y="533.19" width="8.8" height="304.51" fill="#A6E3C6"/>
<rect x="1198.2" y="539.71" width="8.8" height="297.99" fill="#EE845C"/>
<rect x="1211.6" y="535.7" width="8.8" height="302" fill="#ECBB80"/>
<rect x="1225" y="538.21" width="8.8" height="299.49" fill="#5D7AA6"/>
<rect x="1238.4" y="540.21" width="8.8" height="297.49" fill="#A8D8EC"/>
<rect x="1251.8" y="734.99" width="8.8" height="102.71" fill="#469C7E"/>
<rect x="1265.2" y="757.08" width="8.8" height="80.62" fill="#A6E3C6"/>
<rect x="1286.8" y="539.21" width="8.8" height="298.49" fill="#EE845C"/>
<rect x="1300.2" y="536.2" width="8.8" height="301.5" fill="#ECBB80"/>
<rect x="1313.6" y="535.7" width="8.8" height="302" fill="#5D7AA6"/>
<rect x="1327" y="530.17" width="8.8" height="307.53" fill="#A8D8EC"/>
<rect x="1340.4" y="728.97" width="8.8" height="108.73" fill="#469C7E"/>
<rect x="1353.8" y="753.06" width="8.8" height="84.64" fill="#A6E3C6"/>
<rect x="1375.4" y="538.21" width="8.8" height="299.49" fill="#EE845C"/>
<rect x="1388.8" y="537.2" width="8.8" height="300.5" fill="#ECBB80"/>
<rect x="1402.2" y="536.2" width="8.8" height="301.5" fill="#5D7AA6"/>
<rect x="1415.6" y="534.19" width="8.8" height="303.51" fill="#A8D8EC"/>
<rect x="1429" y="727.46" width="8.8" height="110.24" fill="#469C7E"/>
<rect x="1442.4" y="750.55" width="8.8" height="87.15" fill="#A6E3C6"/>
<rect x="1464" y="536.2" width="8.8" height="301.5" fill="#EE845C"/>
<rect x="1477.4" y="538.21" width="8.8" height="299.49" fill="#ECBB80"/>
<rect x="1490.8" y="537.2" width="8.8" height="300.5" fill="#5D7AA6"/>
<rect x="1504.2" y="534.19" width="8.8" height="303.51" fill="#A8D8EC"/>
<rect x="1517.6" y="728.46" width="8.8" height="109.24" fill="#469C7E"/>
<rect x="1531" y="762.6" width="8.8" height="75.1" fill="#A6E3C6"/>
<rect x="1552.6" y="537.2" width="8.8" height="300.5" fill="#EE845C"/>
<rect x="1566" y="537.7" width="8.8" height="300" fill="#ECBB80"/>
<rect x="1579.4" y="535.19" width="8.8" height="302.51" fill="#5D7AA6"/>
<rect x="1592.8" y="534.19" width="8.8" height="303.51" fill="#A8D8EC"/>
<rect x="1606.2" y="729.47" width="8.8" height="108.23" fill="#469C7E"/>
<rect x="1619.6" y="755.57" width="8.8" height="82.13" fill="#A6E3C6"/>
<line x1="1192.9" y1="526.2" x2="1192.9" y2="837.7" stroke="#000" stroke-width="2.4" stroke-linecap="butt"/>
<line x1="1280.8" y1="526.2" x2="1280.8" y2="837.7" stroke="#000" stroke-width="2.4" stroke-linecap="butt"/>
<line x1="1368.3" y1="526.2" x2="1368.3" y2="837.7" stroke="#000" stroke-width="2.4" stroke-linecap="butt"/>
<line x1="1458.6" y1="526.2" x2="1458.6" y2="837.7" stroke="#000" stroke-width="2.4" stroke-linecap="butt"/>
<line x1="1547" y1="526.2" x2="1547" y2="837.7" stroke="#000" stroke-width="2.4" stroke-linecap="butt"/>
<line x1="1104.9" y1="520.1" x2="1104.9" y2="838.8" stroke="#000" stroke-width="2.2" stroke-linecap="butt"/>
<line x1="1103.8" y1="837.7" x2="1633.8" y2="837.7" stroke="#000" stroke-width="2.2" stroke-linecap="butt"/>
<line x1="1103.8" y1="521.2" x2="1633.8" y2="521.2" stroke="#000" stroke-width="2.2" stroke-linecap="butt"/>
<line x1="1632.7" y1="520.1" x2="1632.7" y2="838.8" stroke="#000" stroke-width="2.2" stroke-linecap="butt"/>
<line x1="1096.9" y1="837.9" x2="1104.9" y2="837.9" stroke="#000" stroke-width="2.2" stroke-linecap="butt"/>
<line x1="1096.9" y1="787.7" x2="1104.9" y2="787.7" stroke="#000" stroke-width="2.2" stroke-linecap="butt"/>
<line x1="1096.9" y1="737.5" x2="1104.9" y2="737.5" stroke="#000" stroke-width="2.2" stroke-linecap="butt"/>
<line x1="1096.9" y1="687.3" x2="1104.9" y2="687.3" stroke="#000" stroke-width="2.2" stroke-linecap="butt"/>
<line x1="1096.9" y1="637.1" x2="1104.9" y2="637.1" stroke="#000" stroke-width="2.2" stroke-linecap="butt"/>
<line x1="1096.9" y1="586.9" x2="1104.9" y2="586.9" stroke="#000" stroke-width="2.2" stroke-linecap="butt"/>
<line x1="1096.9" y1="536.7" x2="1104.9" y2="536.7" stroke="#000" stroke-width="2.2" stroke-linecap="butt"/>
<line x1="1147.5" y1="837.7" x2="1147.5" y2="845.7" stroke="#000" stroke-width="2.2" stroke-linecap="butt"/>
<line x1="1236.1" y1="837.7" x2="1236.1" y2="845.7" stroke="#000" stroke-width="2.2" stroke-linecap="butt"/>
<line x1="1324.7" y1="837.7" x2="1324.7" y2="845.7" stroke="#000" stroke-width="2.2" stroke-linecap="butt"/>
<line x1="1413.3" y1="837.7" x2="1413.3" y2="845.7" stroke="#000" stroke-width="2.2" stroke-linecap="butt"/>
<line x1="1501.9" y1="837.7" x2="1501.9" y2="845.7" stroke="#000" stroke-width="2.2" stroke-linecap="butt"/>
<line x1="1590.5" y1="837.7" x2="1590.5" y2="845.7" stroke="#000" stroke-width="2.2" stroke-linecap="butt"/>
<rect x="1104.9" y="1112.33" width="527.8" height="85.27" fill="#DDDEDD"/>
<rect x="1109.6" y="894.99" width="8.8" height="302.61" fill="#EE845C"/>
<rect x="1123" y="899.51" width="8.8" height="298.09" fill="#ECBB80"/>
<rect x="1136.4" y="897.5" width="8.8" height="300.1" fill="#5D7AA6"/>
<rect x="1149.8" y="900.01" width="8.8" height="297.59" fill="#A8D8EC"/>
<rect x="1163.2" y="915.07" width="8.8" height="282.53" fill="#CE256D"/>
<rect x="1176.6" y="912.56" width="8.8" height="285.04" fill="#F096CF"/>
<rect x="1198.2" y="892.49" width="8.8" height="305.11" fill="#EE845C"/>
<rect x="1211.6" y="901.52" width="8.8" height="296.08" fill="#ECBB80"/>
<rect x="1225" y="894.49" width="8.8" height="303.11" fill="#5D7AA6"/>
<rect x="1238.4" y="900.51" width="8.8" height="297.09" fill="#A8D8EC"/>
<rect x="1251.8" y="1096.22" width="8.8" height="101.38" fill="#CE256D"/>
<rect x="1265.2" y="1125.82" width="8.8" height="71.78" fill="#F096CF"/>
<rect x="1286.8" y="897.5" width="8.8" height="300.1" fill="#EE845C"/>
<rect x="1300.2" y="897" width="8.8" height="300.6" fill="#ECBB80"/>
<rect x="1313.6" y="896.5" width="8.8" height="301.1" fill="#5D7AA6"/>
<rect x="1327" y="900.01" width="8.8" height="297.59" fill="#A8D8EC"/>
<rect x="1340.4" y="1089.19" width="8.8" height="108.41" fill="#CE256D"/>
<rect x="1353.8" y="1116.29" width="8.8" height="81.31" fill="#F096CF"/>
<rect x="1375.4" y="902.02" width="8.8" height="295.58" fill="#EE845C"/>
<rect x="1388.8" y="891.48" width="8.8" height="306.12" fill="#ECBB80"/>
<rect x="1402.2" y="901.52" width="8.8" height="296.08" fill="#5D7AA6"/>
<rect x="1415.6" y="905.53" width="8.8" height="292.07" fill="#A8D8EC"/>
<rect x="1429" y="1098.22" width="8.8" height="99.38" fill="#CE256D"/>
<rect x="1442.4" y="1125.82" width="8.8" height="71.78" fill="#F096CF"/>
<rect x="1464" y="892.49" width="8.8" height="305.11" fill="#EE845C"/>
<rect x="1477.4" y="900.51" width="8.8" height="297.09" fill="#ECBB80"/>
<rect x="1490.8" y="896" width="8.8" height="301.6" fill="#5D7AA6"/>
<rect x="1504.2" y="897.5" width="8.8" height="300.1" fill="#A8D8EC"/>
<rect x="1517.6" y="1087.69" width="8.8" height="109.91" fill="#CE256D"/>
<rect x="1531" y="1121.31" width="8.8" height="76.29" fill="#F096CF"/>
<rect x="1552.6" y="894.99" width="8.8" height="302.61" fill="#EE845C"/>
<rect x="1566" y="899.01" width="8.8" height="298.59" fill="#ECBB80"/>
<rect x="1579.4" y="891.48" width="8.8" height="306.12" fill="#5D7AA6"/>
<rect x="1592.8" y="896" width="8.8" height="301.6" fill="#A8D8EC"/>
<rect x="1606.2" y="1085.68" width="8.8" height="111.92" fill="#CE256D"/>
<rect x="1619.6" y="1106.75" width="8.8" height="90.85" fill="#F096CF"/>
<line x1="1192.9" y1="886" x2="1192.9" y2="1197.6" stroke="#000" stroke-width="2.4" stroke-linecap="butt"/>
<line x1="1280.8" y1="886" x2="1280.8" y2="1197.6" stroke="#000" stroke-width="2.4" stroke-linecap="butt"/>
<line x1="1368.3" y1="886" x2="1368.3" y2="1197.6" stroke="#000" stroke-width="2.4" stroke-linecap="butt"/>
<line x1="1458.6" y1="886" x2="1458.6" y2="1197.6" stroke="#000" stroke-width="2.4" stroke-linecap="butt"/>
<line x1="1547" y1="886" x2="1547" y2="1197.6" stroke="#000" stroke-width="2.4" stroke-linecap="butt"/>
<line x1="1104.9" y1="879.9" x2="1104.9" y2="1198.7" stroke="#000" stroke-width="2.2" stroke-linecap="butt"/>
<line x1="1103.8" y1="1197.6" x2="1633.8" y2="1197.6" stroke="#000" stroke-width="2.2" stroke-linecap="butt"/>
<line x1="1103.8" y1="881" x2="1633.8" y2="881" stroke="#000" stroke-width="2.2" stroke-linecap="butt"/>
<line x1="1632.7" y1="879.9" x2="1632.7" y2="1198.7" stroke="#000" stroke-width="2.2" stroke-linecap="butt"/>
<line x1="1096.9" y1="1197.58" x2="1104.9" y2="1197.58" stroke="#000" stroke-width="2.2" stroke-linecap="butt"/>
<line x1="1096.9" y1="1147.4" x2="1104.9" y2="1147.4" stroke="#000" stroke-width="2.2" stroke-linecap="butt"/>
<line x1="1096.9" y1="1097.22" x2="1104.9" y2="1097.22" stroke="#000" stroke-width="2.2" stroke-linecap="butt"/>
<line x1="1096.9" y1="1047.04" x2="1104.9" y2="1047.04" stroke="#000" stroke-width="2.2" stroke-linecap="butt"/>
<line x1="1096.9" y1="996.86" x2="1104.9" y2="996.86" stroke="#000" stroke-width="2.2" stroke-linecap="butt"/>
<line x1="1096.9" y1="946.68" x2="1104.9" y2="946.68" stroke="#000" stroke-width="2.2" stroke-linecap="butt"/>
<line x1="1096.9" y1="896.5" x2="1104.9" y2="896.5" stroke="#000" stroke-width="2.2" stroke-linecap="butt"/>
<line x1="1147.5" y1="1197.6" x2="1147.5" y2="1205.6" stroke="#000" stroke-width="2.2" stroke-linecap="butt"/>
<line x1="1236.1" y1="1197.6" x2="1236.1" y2="1205.6" stroke="#000" stroke-width="2.2" stroke-linecap="butt"/>
<line x1="1324.7" y1="1197.6" x2="1324.7" y2="1205.6" stroke="#000" stroke-width="2.2" stroke-linecap="butt"/>
<line x1="1413.3" y1="1197.6" x2="1413.3" y2="1205.6" stroke="#000" stroke-width="2.2" stroke-linecap="butt"/>
<line x1="1501.9" y1="1197.6" x2="1501.9" y2="1205.6" stroke="#000" stroke-width="2.2" stroke-linecap="butt"/>
<line x1="1590.5" y1="1197.6" x2="1590.5" y2="1205.6" stroke="#000" stroke-width="2.2" stroke-linecap="butt"/>
<text x="1161.5" y="1239" font-size="37" text-anchor="end" fill="#000" transform="rotate(-45 1161.5 1239)">0</text>
<text x="1250.1" y="1239" font-size="37" text-anchor="end" fill="#000" transform="rotate(-45 1250.1 1239)">0.125</text>
<text x="1338.7" y="1239" font-size="37" text-anchor="end" fill="#000" transform="rotate(-45 1338.7 1239)">0.250</text>
<text x="1427.3" y="1239" font-size="37" text-anchor="end" fill="#000" transform="rotate(-45 1427.3 1239)">0.5</text>
<text x="1515.9" y="1239" font-size="37" text-anchor="end" fill="#000" transform="rotate(-45 1515.9 1239)">1</text>
<text x="1604.5" y="1239" font-size="37" text-anchor="end" fill="#000" transform="rotate(-45 1604.5 1239)">2</text>
<text x="1368.7" y="1350.7" font-size="37.7" text-anchor="middle" fill="#000">Bile salts (%)</text>
<text x="1646.1" y="551.6" font-size="37">wt</text>
<circle cx="1654.6" cy="573.6" r="8.1" fill="#EE845C"/>
<text x="1672.1" y="586.5" font-size="37" text-anchor="start" fill="#000">TagA</text>
<circle cx="1654.6" cy="605.2" r="8.1" fill="#ECBB80"/>
<text x="1672.1" y="618.1" font-size="37" text-anchor="start" fill="#000">TagB</text>
<text x="1642.8" y="653.1" font-size="37">Δ<tspan font-style="italic">mxiD</tspan></text>
<circle cx="1654.6" cy="673.8" r="8.1" fill="#5D7AA6"/>
<text x="1672.1" y="686.7" font-size="37" text-anchor="start" fill="#000">TagC</text>
<circle cx="1654.6" cy="705.4" r="8.1" fill="#A8D8EC"/>
<text x="1672.1" y="718.3" font-size="37" text-anchor="start" fill="#000">TagD</text>
<text x="1642.8" y="753.2" font-size="37">Δ<tspan font-style="italic">acrAB</tspan></text>
<circle cx="1654.6" cy="773.3" r="8.1" fill="#469C7E"/>
<text x="1672.1" y="786.2" font-size="37" text-anchor="start" fill="#000">TagE</text>
<circle cx="1654.6" cy="804.2" r="8.1" fill="#A6E3C6"/>
<text x="1672.1" y="817.1" font-size="37" text-anchor="start" fill="#000">TagF</text>
<text x="1646.1" y="909.5" font-size="37">wt</text>
<circle cx="1654.6" cy="931.5" r="8.1" fill="#EE845C"/>
<text x="1672.1" y="944.4" font-size="37" text-anchor="start" fill="#000">TagA</text>
<circle cx="1654.6" cy="963.1" r="8.1" fill="#ECBB80"/>
<text x="1672.1" y="976" font-size="37" text-anchor="start" fill="#000">TagB</text>
<text x="1642.8" y="1011" font-size="37">Δ<tspan font-style="italic">mxiD</tspan></text>
<circle cx="1654.6" cy="1031.7" r="8.1" fill="#5D7AA6"/>
<text x="1672.1" y="1044.6" font-size="37" text-anchor="start" fill="#000">TagC</text>
<circle cx="1654.6" cy="1063.3" r="8.1" fill="#A8D8EC"/>
<text x="1672.1" y="1076.2" font-size="37" text-anchor="start" fill="#000">TagD</text>
<text x="1642.8" y="1111.1" font-size="37">Δ<tspan font-style="italic">tolC</tspan></text>
<circle cx="1654.6" cy="1131.2" r="8.1" fill="#CE256D"/>
<text x="1672.1" y="1144.1" font-size="37" text-anchor="start" fill="#000">TagE</text>
<circle cx="1654.6" cy="1162.1" r="8.1" fill="#F096CF"/>
<text x="1672.1" y="1175" font-size="37" text-anchor="start" fill="#000">TagF</text>
<rect x="180.1" y="1658.15" width="437.5" height="76.75" fill="#DDDEDD"/>
<rect x="184" y="1464" width="8.8" height="270.9" fill="#EE845C"/>
<rect x="197.4" y="1464" width="8.8" height="270.9" fill="#ECBB80"/>
<rect x="210.8" y="1464" width="8.8" height="270.9" fill="#5D7AA6"/>
<rect x="224.2" y="1464" width="8.8" height="270.9" fill="#A8D8EC"/>
<rect x="237.6" y="1464" width="8.8" height="270.9" fill="#469C7E"/>
<rect x="251" y="1464" width="8.8" height="270.9" fill="#A6E3C6"/>
<rect x="272.65" y="1444.59" width="8.8" height="290.31" fill="#EE845C"/>
<rect x="286.05" y="1459.49" width="8.8" height="275.41" fill="#ECBB80"/>
<rect x="299.45" y="1458.58" width="8.8" height="276.32" fill="#5D7AA6"/>
<rect x="312.85" y="1457.68" width="8.8" height="277.22" fill="#A8D8EC"/>
<rect x="326.25" y="1468.97" width="8.8" height="265.93" fill="#469C7E"/>
<rect x="339.65" y="1466.71" width="8.8" height="268.19" fill="#A6E3C6"/>
<rect x="361.3" y="1445.94" width="8.8" height="288.96" fill="#EE845C"/>
<rect x="374.7" y="1457.68" width="8.8" height="277.22" fill="#ECBB80"/>
<rect x="388.1" y="1468.06" width="8.8" height="266.84" fill="#5D7AA6"/>
<rect x="401.5" y="1455.87" width="8.8" height="279.03" fill="#A8D8EC"/>
<rect x="414.9" y="1455.42" width="8.8" height="279.48" fill="#469C7E"/>
<rect x="428.3" y="1477.99" width="8.8" height="256.91" fill="#A6E3C6"/>
<rect x="449.95" y="1441.43" width="8.8" height="293.47" fill="#EE845C"/>
<rect x="463.35" y="1445.49" width="8.8" height="289.41" fill="#ECBB80"/>
<rect x="476.75" y="1496.05" width="8.8" height="238.85" fill="#5D7AA6"/>
<rect x="490.15" y="1491.99" width="8.8" height="242.91" fill="#A8D8EC"/>
<rect x="503.55" y="1599.87" width="8.8" height="135.03" fill="#469C7E"/>
<rect x="516.95" y="1598.07" width="8.8" height="136.83" fill="#A6E3C6"/>
<rect x="538.6" y="1601.23" width="8.8" height="133.67" fill="#EE845C"/>
<rect x="552" y="1611.16" width="8.8" height="123.74" fill="#ECBB80"/>
<rect x="565.4" y="1625.6" width="8.8" height="109.3" fill="#5D7AA6"/>
<rect x="578.8" y="1615.22" width="8.8" height="119.68" fill="#A8D8EC"/>
<rect x="592.2" y="1622.44" width="8.8" height="112.46" fill="#469C7E"/>
<rect x="605.6" y="1618.38" width="8.8" height="116.52" fill="#A6E3C6"/>
<line x1="267" y1="1418.9" x2="267" y2="1734.9" stroke="#000" stroke-width="2.4" stroke-linecap="butt"/>
<line x1="355.1" y1="1418.9" x2="355.1" y2="1734.9" stroke="#000" stroke-width="2.4" stroke-linecap="butt"/>
<line x1="442.8" y1="1418.9" x2="442.8" y2="1734.9" stroke="#000" stroke-width="2.4" stroke-linecap="butt"/>
<line x1="533.1" y1="1418.9" x2="533.1" y2="1734.9" stroke="#000" stroke-width="2.4" stroke-linecap="butt"/>
<line x1="180.1" y1="1417.8" x2="180.1" y2="1736" stroke="#000" stroke-width="2.2" stroke-linecap="butt"/>
<line x1="179" y1="1734.9" x2="618.7" y2="1734.9" stroke="#000" stroke-width="2.2" stroke-linecap="butt"/>
<line x1="179" y1="1418.9" x2="618.7" y2="1418.9" stroke="#000" stroke-width="2.2" stroke-linecap="butt"/>
<line x1="617.6" y1="1417.8" x2="617.6" y2="1736" stroke="#000" stroke-width="2.2" stroke-linecap="butt"/>
<line x1="172.1" y1="1734.84" x2="180.1" y2="1734.84" stroke="#000" stroke-width="2.2" stroke-linecap="butt"/>
<line x1="172.1" y1="1689.7" x2="180.1" y2="1689.7" stroke="#000" stroke-width="2.2" stroke-linecap="butt"/>
<line x1="172.1" y1="1644.56" x2="180.1" y2="1644.56" stroke="#000" stroke-width="2.2" stroke-linecap="butt"/>
<line x1="172.1" y1="1599.42" x2="180.1" y2="1599.42" stroke="#000" stroke-width="2.2" stroke-linecap="butt"/>
<line x1="172.1" y1="1554.28" x2="180.1" y2="1554.28" stroke="#000" stroke-width="2.2" stroke-linecap="butt"/>
<line x1="172.1" y1="1509.14" x2="180.1" y2="1509.14" stroke="#000" stroke-width="2.2" stroke-linecap="butt"/>
<line x1="172.1" y1="1464" x2="180.1" y2="1464" stroke="#000" stroke-width="2.2" stroke-linecap="butt"/>
<line x1="172.1" y1="1418.86" x2="180.1" y2="1418.86" stroke="#000" stroke-width="2.2" stroke-linecap="butt"/>
<line x1="220.6" y1="1734.9" x2="220.6" y2="1742.9" stroke="#000" stroke-width="2.2" stroke-linecap="butt"/>
<line x1="309.25" y1="1734.9" x2="309.25" y2="1742.9" stroke="#000" stroke-width="2.2" stroke-linecap="butt"/>
<line x1="397.9" y1="1734.9" x2="397.9" y2="1742.9" stroke="#000" stroke-width="2.2" stroke-linecap="butt"/>
<line x1="486.55" y1="1734.9" x2="486.55" y2="1742.9" stroke="#000" stroke-width="2.2" stroke-linecap="butt"/>
<line x1="575.2" y1="1734.9" x2="575.2" y2="1742.9" stroke="#000" stroke-width="2.2" stroke-linecap="butt"/>
<text x="166.3" y="1431.46" font-size="37" text-anchor="end">10<tspan font-size="24.5" dx="2.8" dy="-10.2">1</tspan></text>
<text x="166.3" y="1476.6" font-size="37" text-anchor="end">10<tspan font-size="24.5" dx="2.8" dy="-10.2">0</tspan></text>
<text x="166.3" y="1521.74" font-size="37" text-anchor="end">10<tspan font-size="24.5" dx="2.8" dy="-10.2">-1</tspan></text>
<text x="166.3" y="1566.88" font-size="37" text-anchor="end">10<tspan font-size="24.5" dx="2.8" dy="-10.2">-2</tspan></text>
<text x="166.3" y="1612.02" font-size="37" text-anchor="end">10<tspan font-size="24.5" dx="2.8" dy="-10.2">-3</tspan></text>
<text x="166.3" y="1657.16" font-size="37" text-anchor="end">10<tspan font-size="24.5" dx="2.8" dy="-10.2">-4</tspan></text>
<text x="166.3" y="1702.3" font-size="37" text-anchor="end">10<tspan font-size="24.5" dx="2.8" dy="-10.2">-5</tspan></text>
<text x="166.3" y="1747.44" font-size="37" text-anchor="end">10<tspan font-size="24.5" dx="2.8" dy="-10.2">-6</tspan></text>
<rect x="180.1" y="2022.31" width="437.5" height="75.59" fill="#DDDEDD"/>
<rect x="184" y="1827.9" width="8.8" height="270" fill="#EE845C"/>
<rect x="197.4" y="1827.9" width="8.8" height="270" fill="#ECBB80"/>
<rect x="210.8" y="1827.9" width="8.8" height="270" fill="#5D7AA6"/>
<rect x="224.2" y="1827.9" width="8.8" height="270" fill="#A8D8EC"/>
<rect x="237.6" y="1827.9" width="8.8" height="270" fill="#CE256D"/>
<rect x="251" y="1827.9" width="8.8" height="270" fill="#F096CF"/>
<rect x="272.65" y="1822.48" width="8.8" height="275.42" fill="#EE845C"/>
<rect x="286.05" y="1824.28" width="8.8" height="273.62" fill="#ECBB80"/>
<rect x="299.45" y="1821.57" width="8.8" height="276.33" fill="#5D7AA6"/>
<rect x="312.85" y="1824.28" width="8.8" height="273.62" fill="#A8D8EC"/>
<rect x="326.25" y="1855.02" width="8.8" height="242.88" fill="#CE256D"/>
<rect x="339.65" y="1831.52" width="8.8" height="266.38" fill="#F096CF"/>
<rect x="361.3" y="1826.09" width="8.8" height="271.81" fill="#EE845C"/>
<rect x="374.7" y="1818.41" width="8.8" height="279.49" fill="#ECBB80"/>
<rect x="388.1" y="1831.52" width="8.8" height="266.38" fill="#5D7AA6"/>
<rect x="401.5" y="1831.52" width="8.8" height="266.38" fill="#A8D8EC"/>
<rect x="414.9" y="1879.88" width="8.8" height="218.02" fill="#CE256D"/>
<rect x="428.3" y="1854.12" width="8.8" height="243.78" fill="#F096CF"/>
<rect x="449.95" y="1817.5" width="8.8" height="280.4" fill="#EE845C"/>
<rect x="463.35" y="1801.68" width="8.8" height="296.22" fill="#ECBB80"/>
<rect x="476.75" y="1871.29" width="8.8" height="226.61" fill="#5D7AA6"/>
<rect x="490.15" y="1866.32" width="8.8" height="231.58" fill="#A8D8EC"/>
<rect x="503.55" y="1995.59" width="8.8" height="102.31" fill="#CE256D"/>
<rect x="516.95" y="1957.62" width="8.8" height="140.28" fill="#F096CF"/>
<rect x="538.6" y="1947.23" width="8.8" height="150.67" fill="#EE845C"/>
<rect x="552" y="1936.38" width="8.8" height="161.52" fill="#ECBB80"/>
<rect x="565.4" y="1961.24" width="8.8" height="136.66" fill="#5D7AA6"/>
<rect x="578.8" y="1962.6" width="8.8" height="135.3" fill="#A8D8EC"/>
<rect x="592.2" y="1957.62" width="8.8" height="140.28" fill="#CE256D"/>
<rect x="605.6" y="1930.96" width="8.8" height="166.94" fill="#F096CF"/>
<line x1="267" y1="1781.5" x2="267" y2="2097.9" stroke="#000" stroke-width="2.4" stroke-linecap="butt"/>
<line x1="355.1" y1="1781.5" x2="355.1" y2="2097.9" stroke="#000" stroke-width="2.4" stroke-linecap="butt"/>
<line x1="442.8" y1="1781.5" x2="442.8" y2="2097.9" stroke="#000" stroke-width="2.4" stroke-linecap="butt"/>
<line x1="533.1" y1="1781.5" x2="533.1" y2="2097.9" stroke="#000" stroke-width="2.4" stroke-linecap="butt"/>
<line x1="180.1" y1="1780.4" x2="180.1" y2="2099" stroke="#000" stroke-width="2.2" stroke-linecap="butt"/>
<line x1="179" y1="2097.9" x2="618.7" y2="2097.9" stroke="#000" stroke-width="2.2" stroke-linecap="butt"/>
<line x1="179" y1="1781.5" x2="618.7" y2="1781.5" stroke="#000" stroke-width="2.2" stroke-linecap="butt"/>
<line x1="617.6" y1="1780.4" x2="617.6" y2="2099" stroke="#000" stroke-width="2.2" stroke-linecap="butt"/>
<line x1="172.1" y1="2099.1" x2="180.1" y2="2099.1" stroke="#000" stroke-width="2.2" stroke-linecap="butt"/>
<line x1="172.1" y1="2053.9" x2="180.1" y2="2053.9" stroke="#000" stroke-width="2.2" stroke-linecap="butt"/>
<line x1="172.1" y1="2008.7" x2="180.1" y2="2008.7" stroke="#000" stroke-width="2.2" stroke-linecap="butt"/>
<line x1="172.1" y1="1963.5" x2="180.1" y2="1963.5" stroke="#000" stroke-width="2.2" stroke-linecap="butt"/>
<line x1="172.1" y1="1918.3" x2="180.1" y2="1918.3" stroke="#000" stroke-width="2.2" stroke-linecap="butt"/>
<line x1="172.1" y1="1873.1" x2="180.1" y2="1873.1" stroke="#000" stroke-width="2.2" stroke-linecap="butt"/>
<line x1="172.1" y1="1827.9" x2="180.1" y2="1827.9" stroke="#000" stroke-width="2.2" stroke-linecap="butt"/>
<line x1="172.1" y1="1782.7" x2="180.1" y2="1782.7" stroke="#000" stroke-width="2.2" stroke-linecap="butt"/>
<line x1="220.6" y1="2097.9" x2="220.6" y2="2105.9" stroke="#000" stroke-width="2.2" stroke-linecap="butt"/>
<line x1="309.25" y1="2097.9" x2="309.25" y2="2105.9" stroke="#000" stroke-width="2.2" stroke-linecap="butt"/>
<line x1="397.9" y1="2097.9" x2="397.9" y2="2105.9" stroke="#000" stroke-width="2.2" stroke-linecap="butt"/>
<line x1="486.55" y1="2097.9" x2="486.55" y2="2105.9" stroke="#000" stroke-width="2.2" stroke-linecap="butt"/>
<line x1="575.2" y1="2097.9" x2="575.2" y2="2105.9" stroke="#000" stroke-width="2.2" stroke-linecap="butt"/>
<text x="166.3" y="1795.3" font-size="37" text-anchor="end">10<tspan font-size="24.5" dx="2.8" dy="-10.2">1</tspan></text>
<text x="166.3" y="1840.5" font-size="37" text-anchor="end">10<tspan font-size="24.5" dx="2.8" dy="-10.2">0</tspan></text>
<text x="166.3" y="1885.7" font-size="37" text-anchor="end">10<tspan font-size="24.5" dx="2.8" dy="-10.2">-1</tspan></text>
<text x="166.3" y="1930.9" font-size="37" text-anchor="end">10<tspan font-size="24.5" dx="2.8" dy="-10.2">-2</tspan></text>
<text x="166.3" y="1976.1" font-size="37" text-anchor="end">10<tspan font-size="24.5" dx="2.8" dy="-10.2">-3</tspan></text>
<text x="166.3" y="2021.3" font-size="37" text-anchor="end">10<tspan font-size="24.5" dx="2.8" dy="-10.2">-4</tspan></text>
<text x="166.3" y="2066.5" font-size="37" text-anchor="end">10<tspan font-size="24.5" dx="2.8" dy="-10.2">-5</tspan></text>
<text x="166.3" y="2111.7" font-size="37" text-anchor="end">10<tspan font-size="24.5" dx="2.8" dy="-10.2">-6</tspan></text>
<text x="69.4" y="1576.2" font-size="36.6" text-anchor="middle" fill="#000" transform="rotate(-90 69.4 1576.2)">Relative abundance</text>
<text x="69.4" y="1945.6" font-size="38.9" text-anchor="middle" fill="#000" transform="rotate(-90 69.4 1945.6)">Relative abundance</text>
<text x="221" y="2139.6" font-size="36" text-anchor="middle" fill="#000">0</text>
<text x="309.7" y="2139.6" font-size="36" text-anchor="middle" fill="#000">1.5</text>
<text x="398.4" y="2139.6" font-size="36" text-anchor="middle" fill="#000">3</text>
<text x="487.1" y="2139.6" font-size="36" text-anchor="middle" fill="#000">6</text>
<text x="575.8" y="2139.6" font-size="36" text-anchor="middle" fill="#000">12</text>
<text x="397" y="2178.6" font-size="37.4" text-anchor="middle" fill="#000">Gm (µg/ml)</text>
<rect x="777.5" y="1633.7" width="8.6" height="102.3" fill="#EE845C"/>
<rect x="790.9" y="1628.42" width="8.6" height="107.58" fill="#ECBB80"/>
<rect x="804.3" y="1671.67" width="8.6" height="64.33" fill="#5D7AA6"/>
<rect x="817.7" y="1633.7" width="8.6" height="102.3" fill="#A8D8EC"/>
<rect x="831.1" y="1642.13" width="8.6" height="93.87" fill="#469C7E"/>
<rect x="844.5" y="1643.19" width="8.6" height="92.81" fill="#A6E3C6"/>
<rect x="866.2" y="1632.64" width="8.6" height="103.36" fill="#EE845C"/>
<rect x="879.6" y="1629.48" width="8.6" height="106.52" fill="#ECBB80"/>
<rect x="893" y="1660.06" width="8.6" height="75.94" fill="#5D7AA6"/>
<rect x="906.4" y="1615.77" width="8.6" height="120.23" fill="#A8D8EC"/>
<rect x="919.8" y="1648.46" width="8.6" height="87.54" fill="#469C7E"/>
<rect x="933.2" y="1648.46" width="8.6" height="87.54" fill="#A6E3C6"/>
<rect x="954.9" y="1633.7" width="8.6" height="102.3" fill="#EE845C"/>
<rect x="968.3" y="1628.42" width="8.6" height="107.58" fill="#ECBB80"/>
<rect x="981.7" y="1655.85" width="8.6" height="80.15" fill="#5D7AA6"/>
<rect x="995.1" y="1614.71" width="8.6" height="121.29" fill="#A8D8EC"/>
<rect x="1008.5" y="1659.01" width="8.6" height="76.99" fill="#469C7E"/>
<rect x="1021.9" y="1672.72" width="8.6" height="63.28" fill="#A6E3C6"/>
<rect x="1043.6" y="1628.42" width="8.6" height="107.58" fill="#EE845C"/>
<rect x="1057" y="1633.7" width="8.6" height="102.3" fill="#ECBB80"/>
<rect x="1070.4" y="1640.03" width="8.6" height="95.97" fill="#5D7AA6"/>
<rect x="1083.8" y="1575.69" width="8.6" height="160.31" fill="#A8D8EC"/>
<rect x="1097.2" y="1692.76" width="8.6" height="43.24" fill="#469C7E"/>
<rect x="1110.6" y="1694.87" width="8.6" height="41.13" fill="#A6E3C6"/>
<rect x="1132.3" y="1625.26" width="8.6" height="110.74" fill="#EE845C"/>
<rect x="1145.7" y="1635.81" width="8.6" height="100.19" fill="#ECBB80"/>
<rect x="1159.1" y="1588.35" width="8.6" height="147.65" fill="#5D7AA6"/>
<rect x="1172.5" y="1472.33" width="8.6" height="263.67" fill="#A8D8EC"/>
<rect x="1185.9" y="1711.74" width="8.6" height="24.26" fill="#469C7E"/>
<rect x="1199.3" y="1714.91" width="8.6" height="21.09" fill="#A6E3C6"/>
<line x1="860.6" y1="1419.6" x2="860.6" y2="1736" stroke="#000" stroke-width="2.4" stroke-linecap="butt"/>
<line x1="948" y1="1419.6" x2="948" y2="1736" stroke="#000" stroke-width="2.4" stroke-linecap="butt"/>
<line x1="1035.3" y1="1419.6" x2="1035.3" y2="1736" stroke="#000" stroke-width="2.4" stroke-linecap="butt"/>
<line x1="1126.8" y1="1419.6" x2="1126.8" y2="1736" stroke="#000" stroke-width="2.4" stroke-linecap="butt"/>
<line x1="773.3" y1="1418.5" x2="773.3" y2="1737.1" stroke="#000" stroke-width="2.2" stroke-linecap="butt"/>
<line x1="772.2" y1="1736" x2="1212.6" y2="1736" stroke="#000" stroke-width="2.2" stroke-linecap="butt"/>
<line x1="772.2" y1="1419.6" x2="1212.6" y2="1419.6" stroke="#000" stroke-width="2.2" stroke-linecap="butt"/>
<line x1="1211.5" y1="1418.5" x2="1211.5" y2="1737.1" stroke="#000" stroke-width="2.2" stroke-linecap="butt"/>
<line x1="765.3" y1="1736" x2="773.3" y2="1736" stroke="#000" stroke-width="2.2" stroke-linecap="butt"/>
<line x1="765.3" y1="1630.53" x2="773.3" y2="1630.53" stroke="#000" stroke-width="2.2" stroke-linecap="butt"/>
<line x1="765.3" y1="1525.07" x2="773.3" y2="1525.07" stroke="#000" stroke-width="2.2" stroke-linecap="butt"/>
<line x1="765.3" y1="1419.6" x2="773.3" y2="1419.6" stroke="#000" stroke-width="2.2" stroke-linecap="butt"/>
<line x1="815.4" y1="1736" x2="815.4" y2="1744" stroke="#000" stroke-width="2.2" stroke-linecap="butt"/>
<line x1="904.1" y1="1736" x2="904.1" y2="1744" stroke="#000" stroke-width="2.2" stroke-linecap="butt"/>
<line x1="992.8" y1="1736" x2="992.8" y2="1744" stroke="#000" stroke-width="2.2" stroke-linecap="butt"/>
<line x1="1081.5" y1="1736" x2="1081.5" y2="1744" stroke="#000" stroke-width="2.2" stroke-linecap="butt"/>
<line x1="1170.2" y1="1736" x2="1170.2" y2="1744" stroke="#000" stroke-width="2.2" stroke-linecap="butt"/>
<text x="758.2" y="1747.8" font-size="35" text-anchor="end" fill="#000">0</text>
<text x="758.2" y="1642.33" font-size="35" text-anchor="end" fill="#000">1</text>
<text x="758.2" y="1536.87" font-size="35" text-anchor="end" fill="#000">2</text>
<text x="758.2" y="1431.4" font-size="35" text-anchor="end" fill="#000">3</text>
<text x="1219.7" y="1449.7" font-size="37">wt</text>
<circle cx="1228.2" cy="1471.7" r="8.1" fill="#EE845C"/>
<text x="1245.7" y="1484.6" font-size="37" text-anchor="start" fill="#000">TagA</text>
<circle cx="1228.2" cy="1503.3" r="8.1" fill="#ECBB80"/>
<text x="1245.7" y="1516.2" font-size="37" text-anchor="start" fill="#000">TagB</text>
<text x="1216.4" y="1551.2" font-size="37">Δ<tspan font-style="italic">mxiD</tspan></text>
<circle cx="1228.2" cy="1571.9" r="8.1" fill="#5D7AA6"/>
<text x="1245.7" y="1584.8" font-size="37" text-anchor="start" fill="#000">TagC</text>
<circle cx="1228.2" cy="1603.5" r="8.1" fill="#A8D8EC"/>
<text x="1245.7" y="1616.4" font-size="37" text-anchor="start" fill="#000">TagD</text>
<text x="1216.4" y="1651.3" font-size="37">Δ<tspan font-style="italic">acrAB</tspan></text>
<circle cx="1228.2" cy="1671.4" r="8.1" fill="#469C7E"/>
<text x="1245.7" y="1684.3" font-size="37" text-anchor="start" fill="#000">TagE</text>
<circle cx="1228.2" cy="1702.3" r="8.1" fill="#A6E3C6"/>
<text x="1245.7" y="1715.2" font-size="37" text-anchor="start" fill="#000">TagF</text>
<rect x="777.5" y="1986.8" width="8.6" height="110" fill="#EE845C"/>
<rect x="790.9" y="1997.38" width="8.6" height="99.42" fill="#ECBB80"/>
<rect x="804.3" y="2026.99" width="8.6" height="69.81" fill="#5D7AA6"/>
<rect x="817.7" y="2004.78" width="8.6" height="92.02" fill="#A8D8EC"/>
<rect x="831.1" y="2029.11" width="8.6" height="67.69" fill="#CE256D"/>
<rect x="844.5" y="2042.86" width="8.6" height="53.94" fill="#F096CF"/>
<rect x="866.2" y="1986.8" width="8.6" height="110" fill="#EE845C"/>
<rect x="879.6" y="1997.38" width="8.6" height="99.42" fill="#ECBB80"/>
<rect x="893" y="2006.9" width="8.6" height="89.9" fill="#5D7AA6"/>
<rect x="906.4" y="1989.98" width="8.6" height="106.82" fill="#A8D8EC"/>
<rect x="919.8" y="2054.49" width="8.6" height="42.31" fill="#CE256D"/>
<rect x="933.2" y="2062.95" width="8.6" height="33.85" fill="#F096CF"/>
<rect x="954.9" y="1992.09" width="8.6" height="104.71" fill="#EE845C"/>
<rect x="968.3" y="1992.09" width="8.6" height="104.71" fill="#ECBB80"/>
<rect x="981.7" y="2015.36" width="8.6" height="81.44" fill="#5D7AA6"/>
<rect x="995.1" y="1988.92" width="8.6" height="107.88" fill="#A8D8EC"/>
<rect x="1008.5" y="2074.59" width="8.6" height="22.21" fill="#CE256D"/>
<rect x="1021.9" y="2080.94" width="8.6" height="15.86" fill="#F096CF"/>
<rect x="1043.6" y="1978.34" width="8.6" height="118.46" fill="#EE845C"/>
<rect x="1057" y="2003.73" width="8.6" height="93.07" fill="#ECBB80"/>
<rect x="1070.4" y="1997.38" width="8.6" height="99.42" fill="#5D7AA6"/>
<rect x="1083.8" y="1961.42" width="8.6" height="135.38" fill="#A8D8EC"/>
<rect x="1097.2" y="2093.1" width="8.6" height="3.7" fill="#CE256D"/>
<rect x="1110.6" y="2093.63" width="8.6" height="3.17" fill="#F096CF"/>
<rect x="1132.3" y="1973.05" width="8.6" height="123.75" fill="#EE845C"/>
<rect x="1145.7" y="2007.96" width="8.6" height="88.84" fill="#ECBB80"/>
<rect x="1159.1" y="1951.9" width="8.6" height="144.9" fill="#5D7AA6"/>
<rect x="1172.5" y="1893.73" width="8.6" height="203.07" fill="#A8D8EC"/>
<rect x="1185.9" y="2096.8" width="8.6" height="0" fill="#CE256D"/>
<rect x="1199.3" y="2096.8" width="8.6" height="0" fill="#F096CF"/>
<line x1="860.6" y1="1779.5" x2="860.6" y2="2096.8" stroke="#000" stroke-width="2.4" stroke-linecap="butt"/>
<line x1="948" y1="1779.5" x2="948" y2="2096.8" stroke="#000" stroke-width="2.4" stroke-linecap="butt"/>
<line x1="1035.3" y1="1779.5" x2="1035.3" y2="2096.8" stroke="#000" stroke-width="2.4" stroke-linecap="butt"/>
<line x1="1126.8" y1="1779.5" x2="1126.8" y2="2096.8" stroke="#000" stroke-width="2.4" stroke-linecap="butt"/>
<line x1="773.3" y1="1778.4" x2="773.3" y2="2097.9" stroke="#000" stroke-width="2.2" stroke-linecap="butt"/>
<line x1="772.2" y1="2096.8" x2="1212.6" y2="2096.8" stroke="#000" stroke-width="2.2" stroke-linecap="butt"/>
<line x1="772.2" y1="1779.5" x2="1212.6" y2="1779.5" stroke="#000" stroke-width="2.2" stroke-linecap="butt"/>
<line x1="1211.5" y1="1778.4" x2="1211.5" y2="2097.9" stroke="#000" stroke-width="2.2" stroke-linecap="butt"/>
<line x1="765.3" y1="2096.8" x2="773.3" y2="2096.8" stroke="#000" stroke-width="2.2" stroke-linecap="butt"/>
<line x1="765.3" y1="1991.03" x2="773.3" y2="1991.03" stroke="#000" stroke-width="2.2" stroke-linecap="butt"/>
<line x1="765.3" y1="1885.27" x2="773.3" y2="1885.27" stroke="#000" stroke-width="2.2" stroke-linecap="butt"/>
<line x1="765.3" y1="1779.5" x2="773.3" y2="1779.5" stroke="#000" stroke-width="2.2" stroke-linecap="butt"/>
<line x1="815.4" y1="2096.8" x2="815.4" y2="2104.8" stroke="#000" stroke-width="2.2" stroke-linecap="butt"/>
<line x1="904.1" y1="2096.8" x2="904.1" y2="2104.8" stroke="#000" stroke-width="2.2" stroke-linecap="butt"/>
<line x1="992.8" y1="2096.8" x2="992.8" y2="2104.8" stroke="#000" stroke-width="2.2" stroke-linecap="butt"/>
<line x1="1081.5" y1="2096.8" x2="1081.5" y2="2104.8" stroke="#000" stroke-width="2.2" stroke-linecap="butt"/>
<line x1="1170.2" y1="2096.8" x2="1170.2" y2="2104.8" stroke="#000" stroke-width="2.2" stroke-linecap="butt"/>
<text x="758.2" y="2108.6" font-size="35" text-anchor="end" fill="#000">0</text>
<text x="758.2" y="2002.83" font-size="35" text-anchor="end" fill="#000">1</text>
<text x="758.2" y="1897.07" font-size="35" text-anchor="end" fill="#000">2</text>
<text x="758.2" y="1791.3" font-size="35" text-anchor="end" fill="#000">3</text>
<text x="1219.7" y="1809.7" font-size="37">wt</text>
<circle cx="1228.2" cy="1831.7" r="8.1" fill="#EE845C"/>
<text x="1245.7" y="1844.6" font-size="37" text-anchor="start" fill="#000">TagA</text>
<circle cx="1228.2" cy="1863.3" r="8.1" fill="#ECBB80"/>
<text x="1245.7" y="1876.2" font-size="37" text-anchor="start" fill="#000">TagB</text>
<text x="1216.4" y="1911.2" font-size="37">Δ<tspan font-style="italic">mxiD</tspan></text>
<circle cx="1228.2" cy="1931.9" r="8.1" fill="#5D7AA6"/>
<text x="1245.7" y="1944.8" font-size="37" text-anchor="start" fill="#000">TagC</text>
<circle cx="1228.2" cy="1963.5" r="8.1" fill="#A8D8EC"/>
<text x="1245.7" y="1976.4" font-size="37" text-anchor="start" fill="#000">TagD</text>
<text x="1216.4" y="2011.3" font-size="37">Δ<tspan font-style="italic">tolC</tspan></text>
<circle cx="1228.2" cy="2031.4" r="8.1" fill="#CE256D"/>
<text x="1245.7" y="2044.3" font-size="37" text-anchor="start" fill="#000">TagE</text>
<circle cx="1228.2" cy="2062.3" r="8.1" fill="#F096CF"/>
<text x="1245.7" y="2075.2" font-size="37" text-anchor="start" fill="#000">TagF</text>
<text x="717.3" y="1577.3" font-size="36.8" text-anchor="middle" fill="#000" transform="rotate(-90 717.3 1577.3)">Relative abundance</text>
<text x="717.3" y="1939.6" font-size="36.5" text-anchor="middle" fill="#000" transform="rotate(-90 717.3 1939.6)">Relative abundance</text>
<text x="815" y="2139.6" font-size="36" text-anchor="middle" fill="#000">0</text>
<text x="903.7" y="2139.6" font-size="36" text-anchor="middle" fill="#000">12.5</text>
<text x="992.4" y="2139.6" font-size="36" text-anchor="middle" fill="#000">25</text>
<text x="1081.1" y="2139.6" font-size="36" text-anchor="middle" fill="#000">50</text>
<text x="1169.8" y="2139.6" font-size="36" text-anchor="middle" fill="#000">100</text>
<text x="997.4" y="2181.8" font-size="37.4" text-anchor="middle" fill="#000">LL-37 (µg/ml)</text>
<rect x="191.5" y="2544.91" width="17.5" height="57.39" fill="#EE845C"/>
<rect x="191.5" y="2488.77" width="17.5" height="56.44" fill="#ECBB80"/>
<rect x="191.5" y="2432.63" width="17.5" height="56.44" fill="#5D7AA6"/>
<rect x="191.5" y="2365.45" width="17.5" height="67.48" fill="#A8D8EC"/>
<rect x="191.5" y="2329.81" width="17.5" height="35.94" fill="#8C4BAF"/>
<rect x="191.5" y="2286.6" width="17.5" height="43.51" fill="#B48AC4"/>
<rect x="217.8" y="2533.56" width="17.5" height="68.74" fill="#EE845C"/>
<rect x="217.8" y="2469.22" width="17.5" height="64.64" fill="#ECBB80"/>
<rect x="217.8" y="2409.29" width="17.5" height="60.23" fill="#5D7AA6"/>
<rect x="217.8" y="2339.9" width="17.5" height="69.69" fill="#A8D8EC"/>
<rect x="217.8" y="2316.56" width="17.5" height="23.64" fill="#8C4BAF"/>
<rect x="217.8" y="2286.6" width="17.5" height="30.26" fill="#B48AC4"/>
<rect x="243.1" y="2539.55" width="17.5" height="62.75" fill="#EE845C"/>
<rect x="243.1" y="2480.57" width="17.5" height="59.28" fill="#ECBB80"/>
<rect x="243.1" y="2432.63" width="17.5" height="48.24" fill="#5D7AA6"/>
<rect x="243.1" y="2368.92" width="17.5" height="64.01" fill="#A8D8EC"/>
<rect x="243.1" y="2332.33" width="17.5" height="36.89" fill="#8C4BAF"/>
<rect x="243.1" y="2286.6" width="17.5" height="46.03" fill="#B48AC4"/>
<rect x="278.9" y="2545.54" width="17.5" height="56.76" fill="#EE845C"/>
<rect x="278.9" y="2488.77" width="17.5" height="57.07" fill="#ECBB80"/>
<rect x="278.9" y="2432" width="17.5" height="57.07" fill="#5D7AA6"/>
<rect x="278.9" y="2371.44" width="17.5" height="60.86" fill="#A8D8EC"/>
<rect x="278.9" y="2338.01" width="17.5" height="33.73" fill="#8C4BAF"/>
<rect x="278.9" y="2286.6" width="17.5" height="51.71" fill="#B48AC4"/>
<rect x="304.5" y="2541.13" width="17.5" height="61.17" fill="#EE845C"/>
<rect x="304.5" y="2490.35" width="17.5" height="51.08" fill="#ECBB80"/>
<rect x="304.5" y="2432" width="17.5" height="58.65" fill="#5D7AA6"/>
<rect x="304.5" y="2355.04" width="17.5" height="77.26" fill="#A8D8EC"/>
<rect x="304.5" y="2325.39" width="17.5" height="29.95" fill="#8C4BAF"/>
<rect x="304.5" y="2286.6" width="17.5" height="39.09" fill="#B48AC4"/>
<rect x="330.6" y="2541.44" width="17.5" height="60.86" fill="#EE845C"/>
<rect x="330.6" y="2485.93" width="17.5" height="55.81" fill="#ECBB80"/>
<rect x="330.6" y="2437.99" width="17.5" height="48.24" fill="#5D7AA6"/>
<rect x="330.6" y="2373.97" width="17.5" height="64.33" fill="#A8D8EC"/>
<rect x="330.6" y="2338.96" width="17.5" height="35.31" fill="#8C4BAF"/>
<rect x="330.6" y="2286.6" width="17.5" height="52.66" fill="#B48AC4"/>
<rect x="366" y="2544.91" width="17.5" height="57.39" fill="#EE845C"/>
<rect x="366" y="2490.66" width="17.5" height="54.55" fill="#ECBB80"/>
<rect x="366" y="2435.15" width="17.5" height="55.81" fill="#5D7AA6"/>
<rect x="366" y="2374.6" width="17.5" height="60.86" fill="#A8D8EC"/>
<rect x="366" y="2332.02" width="17.5" height="42.88" fill="#8C4BAF"/>
<rect x="366" y="2286.6" width="17.5" height="45.72" fill="#B48AC4"/>
<rect x="392" y="2553.43" width="17.5" height="48.87" fill="#EE845C"/>
<rect x="392" y="2485.93" width="17.5" height="67.8" fill="#ECBB80"/>
<rect x="392" y="2435.15" width="17.5" height="51.08" fill="#5D7AA6"/>
<rect x="392" y="2362.93" width="17.5" height="72.53" fill="#A8D8EC"/>
<rect x="392" y="2327.92" width="17.5" height="35.31" fill="#8C4BAF"/>
<rect x="392" y="2286.6" width="17.5" height="41.62" fill="#B48AC4"/>
<rect x="418" y="2543.65" width="17.5" height="58.65" fill="#EE845C"/>
<rect x="418" y="2488.46" width="17.5" height="55.49" fill="#ECBB80"/>
<rect x="418" y="2443.04" width="17.5" height="45.72" fill="#5D7AA6"/>
<rect x="418" y="2383.11" width="17.5" height="60.23" fill="#A8D8EC"/>
<rect x="418" y="2337.38" width="17.5" height="46.03" fill="#8C4BAF"/>
<rect x="418" y="2286.6" width="17.5" height="51.08" fill="#B48AC4"/>
<rect x="453.4" y="2535.77" width="17.5" height="66.53" fill="#EE845C"/>
<rect x="453.4" y="2474.26" width="17.5" height="61.8" fill="#ECBB80"/>
<rect x="453.4" y="2410.55" width="17.5" height="64.01" fill="#5D7AA6"/>
<rect x="453.4" y="2343.06" width="17.5" height="67.8" fill="#A8D8EC"/>
<rect x="453.4" y="2314.99" width="17.5" height="28.37" fill="#8C4BAF"/>
<rect x="453.4" y="2286.6" width="17.5" height="28.69" fill="#B48AC4"/>
<rect x="479.4" y="2516.21" width="17.5" height="86.09" fill="#EE845C"/>
<rect x="479.4" y="2454.71" width="17.5" height="61.8" fill="#ECBB80"/>
<rect x="479.4" y="2394.15" width="17.5" height="60.86" fill="#5D7AA6"/>
<rect x="479.4" y="2331.07" width="17.5" height="63.38" fill="#A8D8EC"/>
<rect x="479.4" y="2308.99" width="17.5" height="22.38" fill="#8C4BAF"/>
<rect x="479.4" y="2286.6" width="17.5" height="22.69" fill="#B48AC4"/>
<rect x="505" y="2533.24" width="17.5" height="69.06" fill="#EE845C"/>
<rect x="505" y="2473.63" width="17.5" height="59.91" fill="#ECBB80"/>
<rect x="505" y="2421.91" width="17.5" height="52.03" fill="#5D7AA6"/>
<rect x="505" y="2357.25" width="17.5" height="64.96" fill="#A8D8EC"/>
<rect x="505" y="2324.45" width="17.5" height="33.1" fill="#8C4BAF"/>
<rect x="505" y="2286.6" width="17.5" height="38.15" fill="#B48AC4"/>
<line x1="270.6" y1="2289.6" x2="270.6" y2="2602" stroke="#000" stroke-width="2.4" stroke-linecap="butt"/>
<line x1="357.5" y1="2289.6" x2="357.5" y2="2602" stroke="#000" stroke-width="2.4" stroke-linecap="butt"/>
<line x1="443.6" y1="2289.6" x2="443.6" y2="2602" stroke="#000" stroke-width="2.4" stroke-linecap="butt"/>
<line x1="182.4" y1="2285.5" x2="182.4" y2="2603.1" stroke="#000" stroke-width="2.2" stroke-linecap="butt"/>
<line x1="181.3" y1="2602" x2="532.2" y2="2602" stroke="#000" stroke-width="2.2" stroke-linecap="butt"/>
<line x1="181.3" y1="2286.6" x2="532.2" y2="2286.6" stroke="#000" stroke-width="2.2" stroke-linecap="butt"/>
<line x1="531.1" y1="2285.5" x2="531.1" y2="2603.1" stroke="#000" stroke-width="2.2" stroke-linecap="butt"/>
<line x1="174.4" y1="2602" x2="182.4" y2="2602" stroke="#000" stroke-width="2.2" stroke-linecap="butt"/>
<line x1="174.4" y1="2538.92" x2="182.4" y2="2538.92" stroke="#000" stroke-width="2.2" stroke-linecap="butt"/>
<line x1="174.4" y1="2475.84" x2="182.4" y2="2475.84" stroke="#000" stroke-width="2.2" stroke-linecap="butt"/>
<line x1="174.4" y1="2412.76" x2="182.4" y2="2412.76" stroke="#000" stroke-width="2.2" stroke-linecap="butt"/>
<line x1="174.4" y1="2349.68" x2="182.4" y2="2349.68" stroke="#000" stroke-width="2.2" stroke-linecap="butt"/>
<line x1="174.4" y1="2286.6" x2="182.4" y2="2286.6" stroke="#000" stroke-width="2.2" stroke-linecap="butt"/>
<text x="170" y="2614.9" font-size="36" text-anchor="end" fill="#000">0</text>
<text x="170" y="2551.82" font-size="36" text-anchor="end" fill="#000">20</text>
<text x="170" y="2488.74" font-size="36" text-anchor="end" fill="#000">40</text>
<text x="170" y="2425.66" font-size="36" text-anchor="end" fill="#000">60</text>
<text x="170" y="2362.58" font-size="36" text-anchor="end" fill="#000">80</text>
<text x="170" y="2299.5" font-size="36" text-anchor="end" fill="#000">100</text>
<text x="105.2" y="2445.6" font-size="38" text-anchor="middle" fill="#000" transform="rotate(-90 105.2 2445.6)">% population</text>
<text x="362" y="2238.9" font-size="37" text-anchor="middle" fill="#000">Input</text>
<line x1="185.3" y1="2252.3" x2="532.9" y2="2252.3" stroke="#000" stroke-width="2.2" stroke-linecap="butt"/>
<text x="200.7" y="2281.8" font-size="25" text-anchor="middle" fill="#000">1</text>
<text x="227" y="2281.8" font-size="25" text-anchor="middle" fill="#000">2</text>
<text x="252.3" y="2281.8" font-size="25" text-anchor="middle" fill="#000">3</text>
<text x="288.1" y="2281.8" font-size="25" text-anchor="middle" fill="#000">1</text>
<text x="313.7" y="2281.8" font-size="25" text-anchor="middle" fill="#000">2</text>
<text x="339.8" y="2281.8" font-size="25" text-anchor="middle" fill="#000">3</text>
<text x="375.2" y="2281.8" font-size="25" text-anchor="middle" fill="#000">1</text>
<text x="401.2" y="2281.8" font-size="25" text-anchor="middle" fill="#000">2</text>
<text x="427.2" y="2281.8" font-size="25" text-anchor="middle" fill="#000">3</text>
<text x="462.6" y="2281.8" font-size="25" text-anchor="middle" fill="#000">1</text>
<text x="488.6" y="2281.8" font-size="25" text-anchor="middle" fill="#000">2</text>
<text x="514.2" y="2281.8" font-size="25" text-anchor="middle" fill="#000">3</text>
<text x="244.15" y="2623" font-size="38.5" text-anchor="end" transform="rotate(-45 244.15 2623)">Δ<tspan font-style="italic">acrA</tspan></text>
<text x="330.85" y="2623" font-size="38.5" text-anchor="end" transform="rotate(-45 330.85 2623)">Δ<tspan font-style="italic">acrB</tspan></text>
<text x="418.35" y="2623" font-size="38.5" text-anchor="end" transform="rotate(-45 418.35 2623)">Δ<tspan font-style="italic">acrAB</tspan></text>
<text x="508.75" y="2629" font-size="38.5" text-anchor="end" transform="rotate(-45 508.75 2629)">Δ<tspan font-style="italic">tolC</tspan></text>
<line x1="776.9" y1="2285.7" x2="776.9" y2="2602" stroke="#000" stroke-width="2.4" stroke-linecap="butt"/>
<line x1="868.6" y1="2285.7" x2="868.6" y2="2602" stroke="#000" stroke-width="2.4" stroke-linecap="butt"/>
<line x1="960.8" y1="2285.7" x2="960.8" y2="2602" stroke="#000" stroke-width="2.4" stroke-linecap="butt"/>
<circle cx="702.6" cy="2396.68" r="8" fill="#B48AC4"/>
<circle cx="732.8" cy="2405.27" r="8" fill="#B48AC4"/>
<circle cx="762.6" cy="2440.61" r="8" fill="#B48AC4"/>
<circle cx="792.4" cy="2369.93" r="8" fill="#B48AC4"/>
<circle cx="822.6" cy="2372.8" r="8" fill="#B48AC4"/>
<circle cx="853.5" cy="2433.92" r="8" fill="#B48AC4"/>
<circle cx="882.6" cy="2385.22" r="8" fill="#B48AC4"/>
<circle cx="913.5" cy="2393.81" r="8" fill="#B48AC4"/>
<circle cx="943.7" cy="2464.48" r="8" fill="#B48AC4"/>
<circle cx="974.3" cy="2408.14" r="8" fill="#B48AC4"/>
<circle cx="1005.3" cy="2411.95" r="8" fill="#B48AC4"/>
<circle cx="1036.3" cy="2491.22" r="8" fill="#B48AC4"/>
<circle cx="702.6" cy="2384.26" r="8" fill="#8C4BAF"/>
<circle cx="732.8" cy="2381.39" r="8" fill="#8C4BAF"/>
<circle cx="762.6" cy="2419.59" r="8" fill="#8C4BAF"/>
<circle cx="792.4" cy="2373.76" r="8" fill="#8C4BAF"/>
<circle cx="822.6" cy="2380.44" r="8" fill="#8C4BAF"/>
<circle cx="853.5" cy="2446.34" r="8" fill="#8C4BAF"/>
<circle cx="882.6" cy="2375.66" r="8" fill="#8C4BAF"/>
<circle cx="913.5" cy="2368.98" r="8" fill="#8C4BAF"/>
<circle cx="943.7" cy="2427.24" r="8" fill="#8C4BAF"/>
<circle cx="974.3" cy="2413.86" r="8" fill="#8C4BAF"/>
<circle cx="1005.3" cy="2395.72" r="8" fill="#8C4BAF"/>
<circle cx="1036.3" cy="2487.4" r="8" fill="#8C4BAF"/>
<circle cx="702.6" cy="2525.6" r="8" fill="#A8D8EC"/>
<circle cx="732.8" cy="2470.21" r="8" fill="#A8D8EC"/>
<circle cx="762.6" cy="2474.03" r="8" fill="#A8D8EC"/>
<circle cx="792.4" cy="2538.97" r="8" fill="#A8D8EC"/>
<circle cx="822.6" cy="2451.11" r="8" fill="#A8D8EC"/>
<circle cx="853.5" cy="2423.41" r="8" fill="#A8D8EC"/>
<circle cx="882.6" cy="2495.04" r="8" fill="#A8D8EC"/>
<circle cx="913.5" cy="2444.43" r="8" fill="#A8D8EC"/>
<circle cx="943.7" cy="2458.75" r="8" fill="#A8D8EC"/>
<circle cx="974.3" cy="2476.89" r="8" fill="#A8D8EC"/>
<circle cx="1005.3" cy="2477.85" r="8" fill="#A8D8EC"/>
<circle cx="1036.3" cy="2443.47" r="8" fill="#A8D8EC"/>
<circle cx="702.6" cy="2517.01" r="8" fill="#5D7AA6"/>
<circle cx="732.8" cy="2463.53" r="8" fill="#5D7AA6"/>
<circle cx="762.6" cy="2461.61" r="8" fill="#5D7AA6"/>
<circle cx="792.4" cy="2538.01" r="8" fill="#5D7AA6"/>
<circle cx="822.6" cy="2434.88" r="8" fill="#5D7AA6"/>
<circle cx="853.5" cy="2411.95" r="8" fill="#5D7AA6"/>
<circle cx="882.6" cy="2474.99" r="8" fill="#5D7AA6"/>
<circle cx="913.5" cy="2431.05" r="8" fill="#5D7AA6"/>
<circle cx="943.7" cy="2451.11" r="8" fill="#5D7AA6"/>
<circle cx="974.3" cy="2465.43" r="8" fill="#5D7AA6"/>
<circle cx="1005.3" cy="2483.58" r="8" fill="#5D7AA6"/>
<circle cx="1036.3" cy="2435.83" r="8" fill="#5D7AA6"/>
<circle cx="702.6" cy="2318.36" r="8" fill="#ECBB80"/>
<circle cx="732.8" cy="2310.72" r="8" fill="#ECBB80"/>
<circle cx="762.6" cy="2318.36" r="8" fill="#ECBB80"/>
<circle cx="792.4" cy="2318.36" r="8" fill="#ECBB80"/>
<circle cx="822.6" cy="2324.09" r="8" fill="#ECBB80"/>
<circle cx="853.5" cy="2318.36" r="8" fill="#ECBB80"/>
<circle cx="882.6" cy="2318.36" r="8" fill="#ECBB80"/>
<circle cx="913.5" cy="2327.91" r="8" fill="#ECBB80"/>
<circle cx="943.7" cy="2318.36" r="8" fill="#ECBB80"/>
<circle cx="974.3" cy="2323.14" r="8" fill="#ECBB80"/>
<circle cx="1005.3" cy="2311.68" r="8" fill="#ECBB80"/>
<circle cx="1036.3" cy="2322.18" r="8" fill="#ECBB80"/>
<circle cx="702.6" cy="2312.64" r="8" fill="#EE845C"/>
<circle cx="732.8" cy="2318.36" r="8" fill="#EE845C"/>
<circle cx="762.6" cy="2313.59" r="8" fill="#EE845C"/>
<circle cx="792.4" cy="2312.64" r="8" fill="#EE845C"/>
<circle cx="822.6" cy="2307.86" r="8" fill="#EE845C"/>
<circle cx="853.5" cy="2312.64" r="8" fill="#EE845C"/>
<circle cx="882.6" cy="2313.59" r="8" fill="#EE845C"/>
<circle cx="913.5" cy="2305.95" r="8" fill="#EE845C"/>
<circle cx="943.7" cy="2312.64" r="8" fill="#EE845C"/>
<circle cx="974.3" cy="2309.77" r="8" fill="#EE845C"/>
<circle cx="1005.3" cy="2318.36" r="8" fill="#EE845C"/>
<circle cx="1036.3" cy="2309.77" r="8" fill="#EE845C"/>
<line x1="687.1" y1="2284.6" x2="687.1" y2="2603.1" stroke="#000" stroke-width="2.2" stroke-linecap="butt"/>
<line x1="686" y1="2602" x2="1052.1" y2="2602" stroke="#000" stroke-width="2.2" stroke-linecap="butt"/>
<line x1="686" y1="2285.7" x2="1052.1" y2="2285.7" stroke="#000" stroke-width="2.2" stroke-linecap="butt"/>
<line x1="1051" y1="2284.6" x2="1051" y2="2603.1" stroke="#000" stroke-width="2.2" stroke-linecap="butt"/>
<line x1="679.1" y1="2315.5" x2="687.1" y2="2315.5" stroke="#000" stroke-width="2.2" stroke-linecap="butt"/>
<line x1="679.1" y1="2411" x2="687.1" y2="2411" stroke="#000" stroke-width="2.2" stroke-linecap="butt"/>
<line x1="679.1" y1="2506.5" x2="687.1" y2="2506.5" stroke="#000" stroke-width="2.2" stroke-linecap="butt"/>
<line x1="679.1" y1="2602" x2="687.1" y2="2602" stroke="#000" stroke-width="2.2" stroke-linecap="butt"/>
<text x="673.5" y="2327.9" font-size="37" text-anchor="end">10<tspan font-size="24.5" dx="2.8" dy="-10.2">0</tspan></text>
<text x="673.5" y="2423.4" font-size="37" text-anchor="end">10<tspan font-size="24.5" dx="2.8" dy="-10.2">-1</tspan></text>
<text x="673.5" y="2518.9" font-size="37" text-anchor="end">10<tspan font-size="24.5" dx="2.8" dy="-10.2">-2</tspan></text>
<text x="673.5" y="2614.4" font-size="37" text-anchor="end">10<tspan font-size="24.5" dx="2.8" dy="-10.2">-3</tspan></text>
<text x="734.3" y="2370.3" font-size="36" text-anchor="middle" fill="#7540A5">**</text>
<text x="823.4" y="2370.3" font-size="36" text-anchor="middle" fill="#7540A5">**</text>
<text x="912.8" y="2370.3" font-size="36" text-anchor="middle" fill="#7540A5">**</text>
<text x="1004.5" y="2370.3" font-size="36" text-anchor="middle" fill="#7540A5">**</text>
<text x="597.2" y="2443.9" font-size="38.2" text-anchor="middle" fill="#000" transform="rotate(-90 597.2 2443.9)">Relative abundance</text>
<text x="871" y="2238" font-size="38.1" text-anchor="middle" fill="#000">Intracellular population</text>
<line x1="685.2" y1="2251.6" x2="1054.1" y2="2251.6" stroke="#000" stroke-width="2.2" stroke-linecap="butt"/>
<text x="703.1" y="2281.6" font-size="25" text-anchor="middle" fill="#000">1</text>
<text x="733.3" y="2281.6" font-size="25" text-anchor="middle" fill="#000">2</text>
<text x="763.1" y="2281.6" font-size="25" text-anchor="middle" fill="#000">3</text>
<text x="792.9" y="2281.6" font-size="25" text-anchor="middle" fill="#000">1</text>
<text x="823.1" y="2281.6" font-size="25" text-anchor="middle" fill="#000">2</text>
<text x="854" y="2281.6" font-size="25" text-anchor="middle" fill="#000">3</text>
<text x="883.1" y="2281.6" font-size="25" text-anchor="middle" fill="#000">1</text>
<text x="914" y="2281.6" font-size="25" text-anchor="middle" fill="#000">2</text>
<text x="944.2" y="2281.6" font-size="25" text-anchor="middle" fill="#000">3</text>
<text x="974.8" y="2281.6" font-size="25" text-anchor="middle" fill="#000">1</text>
<text x="1005.8" y="2281.6" font-size="25" text-anchor="middle" fill="#000">2</text>
<text x="1036.8" y="2281.6" font-size="25" text-anchor="middle" fill="#000">3</text>
<text x="755.8" y="2628" font-size="38.5" text-anchor="end" transform="rotate(-45 755.8 2628)">Δ<tspan font-style="italic">acrA</tspan></text>
<text x="845.6" y="2628" font-size="38.5" text-anchor="end" transform="rotate(-45 845.6 2628)">Δ<tspan font-style="italic">acrB</tspan></text>
<text x="936.5" y="2628" font-size="38.5" text-anchor="end" transform="rotate(-45 936.5 2628)">Δ<tspan font-style="italic">acrAB</tspan></text>
<text x="1028.3" y="2634" font-size="38.5" text-anchor="end" transform="rotate(-45 1028.3 2634)">Δ<tspan font-style="italic">tolC</tspan></text>
<text x="1062.6" y="2309.7" font-size="37">wt</text>
<circle cx="1071.1" cy="2332.1" r="8.1" fill="#EE845C"/>
<text x="1089.9" y="2345" font-size="37" text-anchor="start" fill="#000">TagA</text>
<circle cx="1071.1" cy="2364.2" r="8.1" fill="#ECBB80"/>
<text x="1089.9" y="2377.1" font-size="37" text-anchor="start" fill="#000">TagB</text>
<text x="1059.3" y="2411.2" font-size="37">Δ<tspan font-style="italic">mxiD</tspan></text>
<circle cx="1071.1" cy="2432.9" r="8.1" fill="#5D7AA6"/>
<text x="1089.9" y="2445.8" font-size="37" text-anchor="start" fill="#000">TagC</text>
<circle cx="1071.1" cy="2464.5" r="8.1" fill="#A8D8EC"/>
<text x="1089.9" y="2477.4" font-size="37" text-anchor="start" fill="#000">TagD</text>
<text x="1062.6" y="2506.4" font-size="37"><tspan font-style="italic">mut</tspan></text>
<circle cx="1071.1" cy="2528.7" r="8.1" fill="#8C4BAF"/>
<text x="1089.9" y="2541.6" font-size="37" text-anchor="start" fill="#000">TagE</text>
<circle cx="1071.1" cy="2560.3" r="8.1" fill="#B48AC4"/>
<text x="1089.9" y="2573.2" font-size="37" text-anchor="start" fill="#000">TagF</text>
<rect x="1326.2" y="2294" width="32.4" height="36.49" fill="#808080"/>
<rect x="1375.1" y="2294" width="32.4" height="35.2" fill="#808080"/>
<rect x="1423.7" y="2294" width="32.4" height="46.14" fill="#808080"/>
<rect x="1472.5" y="2294" width="32.4" height="117.75" fill="#808080"/>
<line x1="1310" y1="2287.5" x2="1310" y2="2604.5" stroke="#000" stroke-width="2.2" stroke-linecap="butt"/>
<line x1="1520.5" y1="2287.5" x2="1520.5" y2="2604.5" stroke="#000" stroke-width="2.2" stroke-linecap="butt"/>
<line x1="1307" y1="2603.4" x2="1523.5" y2="2603.4" stroke="#000" stroke-width="2.2" stroke-linecap="butt"/>
<line x1="1307" y1="2287.5" x2="1523.5" y2="2287.5" stroke="#000" stroke-width="2.2" stroke-linecap="butt"/>
<line x1="1302" y1="2292.1" x2="1310" y2="2292.1" stroke="#000" stroke-width="2.2" stroke-linecap="butt"/>
<line x1="1302" y1="2336.58" x2="1310" y2="2336.58" stroke="#000" stroke-width="2.2" stroke-linecap="butt"/>
<line x1="1302" y1="2381.06" x2="1310" y2="2381.06" stroke="#000" stroke-width="2.2" stroke-linecap="butt"/>
<line x1="1302" y1="2425.54" x2="1310" y2="2425.54" stroke="#000" stroke-width="2.2" stroke-linecap="butt"/>
<line x1="1302" y1="2470.02" x2="1310" y2="2470.02" stroke="#000" stroke-width="2.2" stroke-linecap="butt"/>
<line x1="1302" y1="2514.5" x2="1310" y2="2514.5" stroke="#000" stroke-width="2.2" stroke-linecap="butt"/>
<line x1="1302" y1="2558.98" x2="1310" y2="2558.98" stroke="#000" stroke-width="2.2" stroke-linecap="butt"/>
<line x1="1302" y1="2603.46" x2="1310" y2="2603.46" stroke="#000" stroke-width="2.2" stroke-linecap="butt"/>
<line x1="1341.9" y1="2305.7" x2="1341.9" y2="2355.2" stroke="#000" stroke-width="2.6" stroke-linecap="butt"/>
<line x1="1390.7" y1="2295.6" x2="1390.7" y2="2372.2" stroke="#000" stroke-width="2.6" stroke-linecap="butt"/>
<line x1="1439.2" y1="2295.6" x2="1439.2" y2="2395.7" stroke="#000" stroke-width="2.6" stroke-linecap="butt"/>
<line x1="1488" y1="2295.6" x2="1488" y2="2555" stroke="#000" stroke-width="2.6" stroke-linecap="butt"/>
<circle cx="1331.3" cy="2315.4" r="4.9" fill="none" stroke="#000" stroke-width="3"/>
<circle cx="1352.8" cy="2318.2" r="4.9" fill="none" stroke="#000" stroke-width="3"/>
<circle cx="1342.4" cy="2359.9" r="4.9" fill="none" stroke="#000" stroke-width="3"/>
<circle cx="1379.9" cy="2305.7" r="4.9" fill="none" stroke="#000" stroke-width="3"/>
<circle cx="1401.6" cy="2307.2" r="4.9" fill="none" stroke="#000" stroke-width="3"/>
<circle cx="1390.4" cy="2376.9" r="4.9" fill="none" stroke="#000" stroke-width="3"/>
<circle cx="1428.7" cy="2309.3" r="4.9" fill="none" stroke="#000" stroke-width="3"/>
<circle cx="1450" cy="2310.8" r="4.9" fill="none" stroke="#000" stroke-width="3"/>
<circle cx="1439.2" cy="2400.4" r="4.9" fill="none" stroke="#000" stroke-width="3"/>
<circle cx="1477.1" cy="2326.3" r="4.9" fill="none" stroke="#000" stroke-width="3"/>
<circle cx="1498.8" cy="2332.8" r="4.9" fill="none" stroke="#000" stroke-width="3"/>
<circle cx="1488" cy="2576" r="4.9" fill="none" stroke="#000" stroke-width="3"/>
<line x1="1310" y1="2292.3" x2="1522.5" y2="2292.3" stroke="#EE8555" stroke-width="5" stroke-linecap="butt"/>
<text x="1528.4" y="2302.8" font-size="36.5" text-anchor="start" font-weight="bold" fill="#EE8555">wt</text>
<text x="1294.7" y="2305" font-size="36" text-anchor="end" fill="#000">0</text>
<text x="1294.7" y="2349.48" font-size="36" text-anchor="end" fill="#000">-10</text>
<text x="1294.7" y="2393.96" font-size="36" text-anchor="end" fill="#000">-20</text>
<text x="1294.7" y="2438.44" font-size="36" text-anchor="end" fill="#000">-30</text>
<text x="1294.7" y="2482.92" font-size="36" text-anchor="end" fill="#000">-40</text>
<text x="1294.7" y="2527.4" font-size="36" text-anchor="end" fill="#000">-50</text>
<text x="1294.7" y="2571.88" font-size="36" text-anchor="end" fill="#000">-60</text>
<text x="1294.7" y="2616.36" font-size="36" text-anchor="end" fill="#000">-70</text>
<text x="1227.4" y="2456.4" font-size="38" text-anchor="middle" fill="#000" transform="rotate(-90 1227.4 2456.4)">Colonization Index</text>
<text x="1356.4" y="2622.8" font-size="37.5" text-anchor="end" transform="rotate(-45 1356.4 2622.8)">Δ<tspan>acrA</tspan></text>
<text x="1406.9" y="2624.4" font-size="37.5" text-anchor="end" transform="rotate(-45 1406.9 2624.4)">Δ<tspan>acrB</tspan></text>
<text x="1455.6" y="2624.4" font-size="37.5" text-anchor="end" transform="rotate(-45 1455.6 2624.4)">Δ<tspan>acrAB</tspan></text>
<text x="1508.3" y="2630.9" font-size="37.5" text-anchor="end" transform="rotate(-45 1508.3 2630.9)">Δ<tspan>tolC</tspan></text>
</svg>
</body></html>
